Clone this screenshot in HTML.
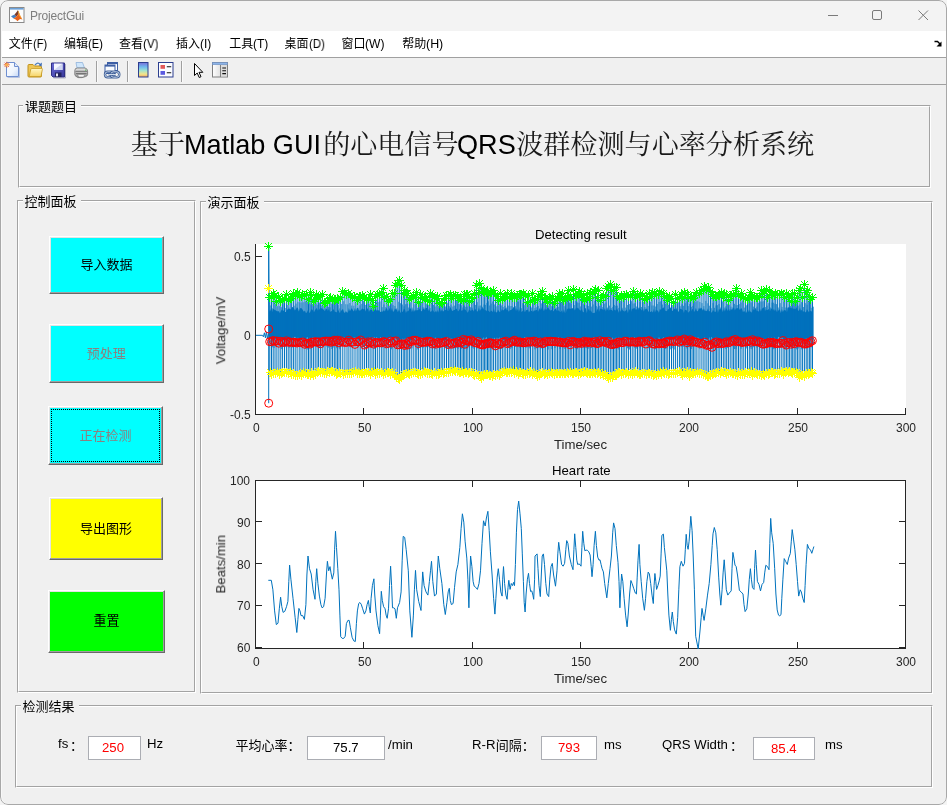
<!DOCTYPE html>
<html><head><meta charset="utf-8"><title>ProjectGui</title>
<style>
html,body{margin:0;padding:0;background:#f4f4f4;}
body{width:947px;height:805px;overflow:hidden;position:relative;font-family:"Liberation Sans",sans-serif;}
#win{position:absolute;left:0;top:0;width:947px;height:805px;border-radius:8px;background:#f0f0f0;overflow:hidden;}
#frame{position:absolute;left:0;top:0;width:945px;height:803px;border:1px solid #a8a8a8;border-radius:8px;pointer-events:none;box-shadow:inset 1px 0 0 #f8f8f8;}
.abs{position:absolute;}
.t{position:absolute;white-space:nowrap;line-height:1;will-change:transform;}
.panel{position:absolute;box-sizing:border-box;border:1px solid;border-color:#a3a3a3 #fff #fff #a3a3a3;}
.panel::after{content:"";position:absolute;left:0;top:0;right:0;bottom:0;border:1px solid;border-color:#fff #a3a3a3 #a3a3a3 #fff;}
.lbl{position:absolute;background:#f0f0f0;}
.btn{position:absolute;box-sizing:border-box;border-style:solid;border-width:1px;border-color:#fff #696969 #696969 #fff;box-shadow:inset -1px -1px 0 #a0a0a0, inset 1px 1px 0 #e3e3e3;}
.edit{position:absolute;box-sizing:border-box;background:#fff;border:1px solid #abadb3;}
svg{position:absolute;left:0;top:0;overflow:visible;}
</style></head>
<body><div id="win">
<div class="abs" style="left:0;top:0;width:947px;height:31px;background:#f3f3f3"></div>
<div class="abs" style="left:0;top:31px;width:947px;height:26px;background:#fff"></div>
<div class="abs" style="left:0;top:57px;width:947px;height:1px;background:#a0a0a0"></div>
<div class="abs" style="left:0;top:84px;width:947px;height:1px;background:#a0a0a0"></div>
<div class="t" style="left:30.00px;top:9.84px;font-size:12px;color:#7e7e7e;letter-spacing:-0.2px">ProjectGui</div>
<div class="panel" style="left:18px;top:105px;width:913px;height:83px"></div>
<div class="lbl" style="left:23px;top:104px;width:58px;height:4px"></div>
<div class="panel" style="left:17px;top:200px;width:179px;height:493px"></div>
<div class="lbl" style="left:22.5px;top:199px;width:58px;height:4px"></div>
<div class="panel" style="left:200px;top:201px;width:733px;height:493px"></div>
<div class="lbl" style="left:205.5px;top:200px;width:58px;height:4px"></div>
<div class="panel" style="left:15px;top:705px;width:918px;height:83px"></div>
<div class="lbl" style="left:20.5px;top:704px;width:58px;height:4px"></div>
<div class="btn" style="left:49px;top:236px;width:115px;height:58px;background:#00ffff"></div>
<div class="btn" style="left:49px;top:324px;width:115px;height:59px;background:#00ffff"></div>
<div class="btn" style="left:48px;top:406px;width:115px;height:59px;background:#00ffff"></div>
<div class="abs" style="left:51px;top:409px;width:107px;height:51px;border:1px dotted #000"></div>
<div class="btn" style="left:49px;top:497px;width:114px;height:63px;background:#ffff00"></div>
<div class="btn" style="left:48px;top:590px;width:117px;height:63px;background:#00ff00"></div>
<div class="t" style="left:184.40px;top:131.06px;font-size:27.1px;color:#000;">Matlab GUI</div>
<div class="t" style="left:456.94px;top:131.06px;font-size:27.1px;color:#000;">QRS</div>
<div class="t" style="left:32.80px;top:37.84px;font-size:12px;color:#000;transform:scaleX(0.93);transform-origin:0 0;">(F)</div>
<div class="t" style="left:88.30px;top:37.84px;font-size:12px;color:#000;transform:scaleX(0.93);transform-origin:0 0;">(E)</div>
<div class="t" style="left:143.30px;top:37.84px;font-size:12px;color:#000;transform:scaleX(0.965);transform-origin:0 0;">(V)</div>
<div class="t" style="left:200.30px;top:37.84px;font-size:12px;color:#000;transform:scaleX(1.0);transform-origin:0 0;">(I)</div>
<div class="t" style="left:253.30px;top:37.84px;font-size:12px;color:#000;transform:scaleX(0.97);transform-origin:0 0;">(T)</div>
<div class="t" style="left:308.80px;top:37.84px;font-size:12px;color:#000;transform:scaleX(0.95);transform-origin:0 0;">(D)</div>
<div class="t" style="left:365.30px;top:37.84px;font-size:12px;color:#000;transform:scaleX(1.01);transform-origin:0 0;">(W)</div>
<div class="t" style="left:426.30px;top:37.84px;font-size:12px;color:#000;transform:scaleX(1.035);transform-origin:0 0;">(H)</div>
<div class="edit" style="left:88px;top:736px;width:53px;height:24px"></div>
<div class="edit" style="left:307px;top:736px;width:78px;height:24px"></div>
<div class="edit" style="left:541px;top:736px;width:56px;height:24px"></div>
<div class="edit" style="left:753px;top:737px;width:62px;height:23px"></div>
<div class="t" style="left:57.50px;top:737.43px;font-size:13.2px;color:#000;">fs</div>
<div class="t" style="left:102.30px;top:740.63px;font-size:13.2px;color:#ff0000;">250</div>
<div class="t" style="left:147.30px;top:737.43px;font-size:13.2px;color:#000;">Hz</div>
<div class="t" style="left:332.60px;top:741.13px;font-size:13.2px;color:#000;">75.7</div>
<div class="t" style="left:387.60px;top:737.83px;font-size:13.2px;color:#000;">/min</div>
<div class="t" style="left:471.50px;top:737.83px;font-size:13.2px;color:#000;">R-R</div>
<div class="t" style="left:557.70px;top:740.83px;font-size:13.2px;color:#ff0000;">793</div>
<div class="t" style="left:604.30px;top:737.83px;font-size:13.2px;color:#000;">ms</div>
<div class="t" style="left:661.60px;top:737.63px;font-size:13.2px;color:#000;">QRS Width</div>
<div class="t" style="left:770.60px;top:741.53px;font-size:13.2px;color:#ff0000;">85.4</div>
<div class="t" style="left:825.30px;top:737.63px;font-size:13.2px;color:#000;">ms</div>
<div class="t" style="left:252.66px;top:421.84px;font-size:12px;color:#262626;">0</div>
<div class="t" style="left:252.66px;top:655.84px;font-size:12px;color:#262626;">0</div>
<div class="t" style="left:357.66px;top:421.84px;font-size:12px;color:#262626;">50</div>
<div class="t" style="left:357.66px;top:655.84px;font-size:12px;color:#262626;">50</div>
<div class="t" style="left:462.66px;top:421.84px;font-size:12px;color:#262626;">100</div>
<div class="t" style="left:462.66px;top:655.84px;font-size:12px;color:#262626;">100</div>
<div class="t" style="left:570.99px;top:421.84px;font-size:12px;color:#262626;">150</div>
<div class="t" style="left:570.99px;top:655.84px;font-size:12px;color:#262626;">150</div>
<div class="t" style="left:679.33px;top:421.84px;font-size:12px;color:#262626;">200</div>
<div class="t" style="left:679.33px;top:655.84px;font-size:12px;color:#262626;">200</div>
<div class="t" style="left:787.66px;top:421.84px;font-size:12px;color:#262626;">250</div>
<div class="t" style="left:787.66px;top:655.84px;font-size:12px;color:#262626;">250</div>
<div class="t" style="left:895.99px;top:421.84px;font-size:12px;color:#262626;">300</div>
<div class="t" style="left:895.99px;top:655.84px;font-size:12px;color:#262626;">300</div>
<div class="t" style="left:233.82px;top:251.14px;font-size:12px;color:#262626;">0.5</div>
<div class="t" style="left:243.83px;top:330.14px;font-size:12px;color:#262626;">0</div>
<div class="t" style="left:229.82px;top:409.14px;font-size:12px;color:#262626;">-0.5</div>
<div class="t" style="left:230.28px;top:474.84px;font-size:12px;color:#262626;">100</div>
<div class="t" style="left:236.96px;top:516.74px;font-size:12px;color:#262626;">90</div>
<div class="t" style="left:236.96px;top:558.54px;font-size:12px;color:#262626;">80</div>
<div class="t" style="left:236.96px;top:600.44px;font-size:12px;color:#262626;">70</div>
<div class="t" style="left:236.96px;top:642.34px;font-size:12px;color:#262626;">60</div>
<div class="t" style="left:535.00px;top:227.83px;font-size:13.2px;color:#000;">Detecting result</div>
<div class="t" style="left:552.00px;top:463.83px;font-size:13.2px;color:#000;">Heart rate</div>
<div class="t" style="left:554.30px;top:437.63px;font-size:13.2px;color:#262626;">Time/sec</div>
<div class="t" style="left:554.30px;top:671.63px;font-size:13.2px;color:#262626;">Time/sec</div>
<div class="t" style="left:0;top:0;font-size:13.2px;color:#262626;transform-origin:0 0;transform:translate(214.2px,364.3px) rotate(-90deg)">Voltage/mV</div>
<div class="t" style="left:0;top:0;font-size:13.2px;color:#262626;transform-origin:0 0;transform:translate(214.2px,593.5px) rotate(-90deg)">Beats/min</div>
<svg width="947" height="805" viewBox="0 0 947 805">
<rect x="255" y="244" width="651" height="171" fill="#fff"/>
<rect x="255" y="480" width="651" height="169" fill="#fff"/>
<path d="M268.9,309.6 L269.9,311.7 L270.9,309 L271.9,312.4 L272.9,309.2 L273.9,309 L274.9,310.3 L275.9,310.2 L276.9,311.3 L277.9,311.3 L278.9,311.2 L279.9,313.2 L280.9,310.9 L281.9,309.5 L282.9,310.8 L283.9,310.6 L284.9,312 L285.9,312 L286.9,309.9 L287.9,309.1 L288.9,308.4 L289.9,309.3 L290.9,309.2 L291.9,307 L292.9,307.4 L293.9,308 L294.9,310.5 L295.9,309.2 L296.9,307.2 L297.9,308 L298.9,311.5 L299.9,308.4 L300.9,307.9 L301.9,308.5 L302.9,310.2 L303.9,311.8 L304.9,310.5 L305.9,312.9 L306.9,312.4 L307.9,310.1 L308.9,312.5 L309.9,312.8 L310.9,310.3 L311.9,309.1 L312.9,310.4 L313.9,312.5 L314.9,309.9 L315.9,308.9 L316.9,307.8 L317.9,310.6 L318.9,310 L319.9,308.4 L320.9,307.9 L321.9,308.6 L322.9,308.8 L323.9,310 L324.9,311.3 L325.9,308.5 L326.9,309.1 L327.9,310.9 L328.9,308.6 L329.9,311.8 L330.9,311.5 L331.9,311.1 L332.9,309.5 L333.9,309.6 L334.9,312.1 L335.9,311.7 L336.9,312.6 L337.9,309 L338.9,311.3 L339.9,313.3 L340.9,310.7 L341.9,310.3 L342.9,308.8 L343.9,312 L344.9,312.9 L345.9,311 L346.9,312.5 L347.9,312.5 L348.9,307.9 L349.9,311.3 L350.9,309.6 L351.9,308 L352.9,310.2 L353.9,311.4 L354.9,307.8 L355.9,311.4 L356.9,307.9 L357.9,308 L358.9,310.5 L359.9,310.5 L360.9,310.2 L361.9,308.6 L362.9,308.7 L363.9,309.6 L364.9,308.7 L365.9,311.4 L366.9,308.2 L367.9,308.8 L368.9,311.9 L369.9,309.7 L370.9,309.8 L371.9,309.2 L372.9,312.2 L373.9,310.3 L374.9,310.1 L375.9,310.9 L376.9,309.7 L377.9,310.7 L378.9,309.9 L379.9,311.4 L380.9,311.9 L381.9,311.4 L382.9,311.4 L383.9,310.1 L384.9,311.5 L385.9,308.2 L386.9,308.2 L387.9,311.1 L388.9,309.7 L389.9,307.6 L390.9,311.3 L391.9,307.4 L392.9,311.4 L393.9,311.5 L394.9,308.2 L395.9,309.4 L396.9,309.6 L397.9,312.3 L398.9,309.3 L399.9,311.6 L400.9,313.1 L401.9,311.9 L402.9,311.6 L403.9,308.8 L404.9,309.3 L405.9,313.1 L406.9,311.1 L407.9,311.4 L408.9,310.3 L409.9,308.6 L410.9,308.6 L411.9,312.3 L412.9,308.5 L413.9,311.9 L414.9,309.5 L415.9,310.8 L416.9,309.9 L417.9,310.2 L418.9,310.1 L419.9,308.1 L420.9,311 L421.9,311.2 L422.9,308.4 L423.9,308.8 L424.9,310.1 L425.9,307.9 L426.9,308.1 L427.9,311.5 L428.9,308.4 L429.9,311.1 L430.9,311.9 L431.9,310.6 L432.9,309.7 L433.9,311.7 L434.9,312.6 L435.9,310.2 L436.9,312.5 L437.9,309.5 L438.9,312.5 L439.9,308.7 L440.9,311.8 L441.9,309.2 L442.9,311.6 L443.9,311 L444.9,309.5 L445.9,310.3 L446.9,307.1 L447.9,311.1 L448.9,311 L449.9,306.8 L450.9,308 L451.9,310.5 L452.9,311 L453.9,309.8 L454.9,309.9 L455.9,308.6 L456.9,309.1 L457.9,311.6 L458.9,310.5 L459.9,308.4 L460.9,310.1 L461.9,311 L462.9,309.7 L463.9,309.6 L464.9,309.3 L465.9,310.3 L466.9,311.8 L467.9,312.8 L468.9,309.5 L469.9,310.1 L470.9,311 L471.9,309.9 L472.9,309.4 L473.9,311.6 L474.9,308.6 L475.9,309.7 L476.9,311.7 L477.9,311 L478.9,307.2 L479.9,311 L480.9,308.9 L481.9,309 L482.9,307.5 L483.9,309.6 L484.9,310.6 L485.9,309.9 L486.9,311.3 L487.9,310.4 L488.9,310.9 L489.9,312.3 L490.9,310.6 L491.9,311.1 L492.9,311.9 L493.9,308.6 L494.9,312.2 L495.9,311.4 L496.9,312.7 L497.9,309.5 L498.9,311.1 L499.9,312.2 L500.9,311.5 L501.9,309.1 L502.9,310.6 L503.9,310.1 L504.9,308.5 L505.9,308.3 L506.9,310.3 L507.9,309.9 L508.9,311.8 L509.9,310.3 L510.9,310.1 L511.9,309.4 L512.9,308.3 L513.9,307 L514.9,311.2 L515.9,307.3 L516.9,311 L517.9,308.8 L518.9,311.9 L519.9,309.1 L520.9,311.9 L521.9,311.4 L522.9,311.1 L523.9,308.6 L524.9,312.2 L525.9,310.3 L526.9,310.1 L527.9,309.6 L528.9,312.4 L529.9,310.8 L530.9,311.2 L531.9,310.5 L532.9,311.9 L533.9,310.6 L534.9,310.5 L535.9,310.2 L536.9,309.8 L537.9,312.1 L538.9,309.8 L539.9,308.7 L540.9,309.9 L541.9,307 L542.9,308.5 L543.9,311.3 L544.9,308.2 L545.9,309.9 L546.9,309.1 L547.9,307.4 L548.9,308.4 L549.9,310.3 L550.9,310.4 L551.9,309.8 L552.9,311.5 L553.9,310.7 L554.9,308.9 L555.9,309.1 L556.9,310.7 L557.9,310.8 L558.9,310.2 L559.9,311.8 L560.9,311.9 L561.9,310.3 L562.9,313 L563.9,308.9 L564.9,312.7 L565.9,312.8 L566.9,308.2 L567.9,309.3 L568.9,307.9 L569.9,309.1 L570.9,308.6 L571.9,308.5 L572.9,308.4 L573.9,307.9 L574.9,310.6 L575.9,307.8 L576.9,308.4 L577.9,307.6 L578.9,308.9 L579.9,310.3 L580.9,310.4 L581.9,309 L582.9,312 L583.9,312.2 L584.9,308.8 L585.9,308.4 L586.9,312.9 L587.9,310.3 L588.9,308.6 L589.9,311.3 L590.9,310.3 L591.9,312.6 L592.9,313.3 L593.9,312.7 L594.9,312.7 L595.9,312.4 L596.9,309.4 L597.9,309.2 L598.9,312.2 L599.9,308.9 L600.9,308.6 L601.9,309 L602.9,309.6 L603.9,310.4 L604.9,308.1 L605.9,311.4 L606.9,307.6 L607.9,310 L608.9,310.7 L609.9,309.3 L610.9,309.9 L611.9,309.8 L612.9,311.3 L613.9,310.5 L614.9,309.4 L615.9,310.7 L616.9,308.3 L617.9,310.2 L618.9,312.8 L619.9,309.8 L620.9,311.7 L621.9,308.7 L622.9,310.5 L623.9,311.3 L624.9,311.5 L625.9,310.3 L626.9,309.2 L627.9,312.9 L628.9,310.7 L629.9,308.7 L630.9,312.2 L631.9,308.3 L632.9,309.3 L633.9,307.8 L634.9,308.4 L635.9,309.9 L636.9,308.9 L637.9,310.5 L638.9,307 L639.9,308.6 L640.9,309.3 L641.9,310.4 L642.9,308 L643.9,311.5 L644.9,308.5 L645.9,309.6 L646.9,308.3 L647.9,310.4 L648.9,312 L649.9,312.2 L650.9,311.4 L651.9,311.3 L652.9,312.6 L653.9,308.6 L654.9,312.8 L655.9,309.6 L656.9,310.4 L657.9,310.6 L658.9,312.8 L659.9,308.7 L660.9,309.9 L661.9,308.7 L662.9,307.7 L663.9,308.2 L664.9,310.7 L665.9,310.8 L666.9,311.2 L667.9,308.9 L668.9,309.3 L669.9,307.1 L670.9,308.6 L671.9,311 L672.9,310.4 L673.9,308.7 L674.9,308.7 L675.9,309.9 L676.9,307.7 L677.9,311.4 L678.9,311.4 L679.9,308.5 L680.9,309 L681.9,309.4 L682.9,310.1 L683.9,313 L684.9,309.8 L685.9,310.1 L686.9,310.5 L687.9,312.7 L688.9,311.9 L689.9,310.7 L690.9,311.7 L691.9,309.4 L692.9,309.1 L693.9,312.1 L694.9,311 L695.9,307.8 L696.9,311.1 L697.9,311.2 L698.9,307.5 L699.9,309.3 L700.9,307.5 L701.9,308.5 L702.9,310.4 L703.9,308.2 L704.9,311 L705.9,310.6 L706.9,311.3 L707.9,308.2 L708.9,311.6 L709.9,311.1 L710.9,312.2 L711.9,312.6 L712.9,309.9 L713.9,310.9 L714.9,312 L715.9,311.6 L716.9,308.6 L717.9,312.9 L718.9,309 L719.9,309.7 L720.9,308.4 L721.9,309.1 L722.9,312 L723.9,308.6 L724.9,311.5 L725.9,307.8 L726.9,309.3 L727.9,311 L728.9,308.3 L729.9,311.2 L730.9,308.6 L731.9,310.1 L732.9,308.5 L733.9,307.6 L734.9,310.6 L735.9,308.2 L736.9,308.4 L737.9,308.1 L738.9,308.1 L739.9,310 L740.9,308.2 L741.9,308.6 L742.9,312 L743.9,311.3 L744.9,311.4 L745.9,313.2 L746.9,311.2 L747.9,312.8 L748.9,309.5 L749.9,311.8 L750.9,311.4 L751.9,312.8 L752.9,308.4 L753.9,310.3 L754.9,310 L755.9,307.8 L756.9,311.3 L757.9,310.8 L758.9,311.7 L759.9,308.4 L760.9,311.5 L761.9,308.8 L762.9,308.1 L763.9,307.3 L764.9,311.3 L765.9,309.2 L766.9,310.3 L767.9,309.8 L768.9,309.1 L769.9,311.4 L770.9,308.7 L771.9,308.5 L772.9,310.8 L773.9,308.8 L774.9,311.1 L775.9,309.4 L776.9,312.1 L777.9,311.2 L778.9,309.5 L779.9,309.5 L780.9,313 L781.9,308.7 L782.9,311.9 L783.9,310 L784.9,310.3 L785.9,310.6 L786.9,312.4 L787.9,307.7 L788.9,307.6 L789.9,308.1 L790.9,307.6 L791.9,308.6 L792.9,308.3 L793.9,308.9 L794.9,308.5 L795.9,309 L796.9,307 L797.9,310.1 L798.9,311.1 L799.9,307.3 L800.9,310.7 L801.9,309.7 L802.9,311.8 L803.9,311.2 L804.9,311.4 L805.9,312.5 L806.9,309.1 L807.9,310.5 L808.9,312.3 L809.9,311.1 L810.9,310.4 L811.9,311.8 L812.9,312.2 L812.9,338.7 L811.9,339.8 L810.9,338.9 L809.9,338.6 L808.9,337.9 L807.9,338.2 L806.9,338.3 L805.9,338.6 L804.9,339.8 L803.9,339.2 L802.9,340.3 L801.9,340.2 L800.9,338.9 L799.9,338.7 L798.9,338.4 L797.9,338.2 L796.9,339.6 L795.9,339 L794.9,339.8 L793.9,337 L792.9,339.7 L791.9,339.7 L790.9,340.7 L789.9,337.2 L788.9,338.2 L787.9,337.6 L786.9,340.3 L785.9,338.8 L784.9,340.5 L783.9,339.3 L782.9,339.1 L781.9,337 L780.9,338.7 L779.9,337.3 L778.9,337.1 L777.9,336.8 L776.9,339.5 L775.9,339.4 L774.9,337 L773.9,338.7 L772.9,339.1 L771.9,337 L770.9,340.2 L769.9,338.5 L768.9,337.3 L767.9,340.3 L766.9,340.3 L765.9,338.8 L764.9,340.3 L763.9,337.9 L762.9,340.4 L761.9,338.7 L760.9,338.4 L759.9,340 L758.9,340.4 L757.9,337.5 L756.9,340.4 L755.9,339.9 L754.9,340.7 L753.9,338.7 L752.9,338.8 L751.9,337.2 L750.9,337.7 L749.9,337.9 L748.9,337.3 L747.9,337.9 L746.9,338.7 L745.9,338.7 L744.9,338.4 L743.9,340.2 L742.9,337.4 L741.9,339.7 L740.9,338.9 L739.9,340.8 L738.9,337.3 L737.9,339.5 L736.9,340.6 L735.9,339.2 L734.9,340.6 L733.9,338.4 L732.9,337.9 L731.9,340 L730.9,338.8 L729.9,340.5 L728.9,340 L727.9,337.7 L726.9,340.3 L725.9,339.9 L724.9,339 L723.9,338.7 L722.9,340.8 L721.9,339.4 L720.9,340.8 L719.9,339.6 L718.9,340.6 L717.9,339.6 L716.9,337 L715.9,336.8 L714.9,340 L713.9,339.7 L712.9,340 L711.9,337.2 L710.9,336.8 L709.9,337.1 L708.9,338.8 L707.9,339.5 L706.9,339.7 L705.9,339.1 L704.9,337.3 L703.9,338.6 L702.9,340.6 L701.9,340.2 L700.9,338.9 L699.9,339.4 L698.9,338.2 L697.9,337 L696.9,339 L695.9,337.2 L694.9,337 L693.9,337 L692.9,340 L691.9,340.8 L690.9,340.2 L689.9,340.1 L688.9,340.3 L687.9,339.5 L686.9,337.7 L685.9,339.6 L684.9,337 L683.9,340.2 L682.9,336.8 L681.9,337.9 L680.9,340.6 L679.9,337.1 L678.9,339.4 L677.9,340.7 L676.9,336.8 L675.9,340.2 L674.9,339.2 L673.9,336.9 L672.9,338.5 L671.9,336.9 L670.9,339.2 L669.9,340.6 L668.9,336.9 L667.9,337.3 L666.9,340.6 L665.9,340.1 L664.9,340.7 L663.9,336.9 L662.9,337.7 L661.9,339.1 L660.9,339.8 L659.9,338.8 L658.9,336.8 L657.9,340.7 L656.9,339.4 L655.9,340.2 L654.9,338.2 L653.9,339.3 L652.9,340.6 L651.9,338.7 L650.9,338.5 L649.9,338 L648.9,340 L647.9,338.4 L646.9,338.7 L645.9,337.1 L644.9,339.9 L643.9,337.5 L642.9,338.9 L641.9,337.7 L640.9,340 L639.9,338 L638.9,339.9 L637.9,337.7 L636.9,337.6 L635.9,340.5 L634.9,337.1 L633.9,337.5 L632.9,339.7 L631.9,337.3 L630.9,337.4 L629.9,337.2 L628.9,338.4 L627.9,339.7 L626.9,339.7 L625.9,337.1 L624.9,338 L623.9,337.2 L622.9,339.6 L621.9,337.4 L620.9,338.3 L619.9,337.4 L618.9,336.8 L617.9,339.6 L616.9,337.6 L615.9,337.6 L614.9,339.1 L613.9,338.2 L612.9,337.6 L611.9,338 L610.9,338.5 L609.9,340.6 L608.9,337.3 L607.9,337.8 L606.9,340.5 L605.9,338.2 L604.9,340.8 L603.9,336.9 L602.9,337 L601.9,337.9 L600.9,340.5 L599.9,337.3 L598.9,337.7 L597.9,340.1 L596.9,339.8 L595.9,340.8 L594.9,337.3 L593.9,336.9 L592.9,338 L591.9,340.8 L590.9,340 L589.9,340.4 L588.9,338.9 L587.9,337 L586.9,339.2 L585.9,339 L584.9,338.5 L583.9,340.3 L582.9,338.5 L581.9,337 L580.9,339.1 L579.9,339.1 L578.9,339.8 L577.9,337.6 L576.9,339.3 L575.9,337.1 L574.9,340.7 L573.9,340.4 L572.9,338.9 L571.9,340 L570.9,338.4 L569.9,338.3 L568.9,338.3 L567.9,337.6 L566.9,338.3 L565.9,340 L564.9,339.6 L563.9,338.6 L562.9,337.9 L561.9,337.6 L560.9,338.4 L559.9,339.5 L558.9,337.6 L557.9,336.8 L556.9,339.7 L555.9,339.2 L554.9,339.6 L553.9,338.6 L552.9,339 L551.9,337.7 L550.9,338.9 L549.9,337.3 L548.9,338.3 L547.9,340.7 L546.9,338.8 L545.9,336.8 L544.9,337 L543.9,338.3 L542.9,338.2 L541.9,340.5 L540.9,339.1 L539.9,337.4 L538.9,338.5 L537.9,337.4 L536.9,337.3 L535.9,338.8 L534.9,340.2 L533.9,340.6 L532.9,340.3 L531.9,339.7 L530.9,337.2 L529.9,337.8 L528.9,338 L527.9,337.4 L526.9,337.2 L525.9,337.6 L524.9,337.2 L523.9,337.6 L522.9,340.2 L521.9,337.6 L520.9,340.2 L519.9,339.8 L518.9,336.9 L517.9,340.8 L516.9,337.4 L515.9,337.6 L514.9,337.4 L513.9,337.3 L512.9,339.3 L511.9,338.2 L510.9,338.9 L509.9,339.8 L508.9,337.9 L507.9,340.1 L506.9,339.8 L505.9,339.7 L504.9,339.4 L503.9,340.3 L502.9,339.6 L501.9,337.5 L500.9,338.2 L499.9,336.9 L498.9,338.5 L497.9,338.2 L496.9,337.6 L495.9,340 L494.9,337.5 L493.9,338.7 L492.9,337.8 L491.9,339.7 L490.9,338 L489.9,339.1 L488.9,339.2 L487.9,340.6 L486.9,336.8 L485.9,337.7 L484.9,338 L483.9,336.9 L482.9,338.7 L481.9,338.2 L480.9,337.9 L479.9,338.5 L478.9,338.7 L477.9,337.6 L476.9,338.6 L475.9,336.8 L474.9,339.2 L473.9,338.1 L472.9,337 L471.9,339.1 L470.9,339 L469.9,339.8 L468.9,337.9 L467.9,339.1 L466.9,338.2 L465.9,339 L464.9,338 L463.9,338 L462.9,337.2 L461.9,339.9 L460.9,337.8 L459.9,339.1 L458.9,337.8 L457.9,338.3 L456.9,338.9 L455.9,338.8 L454.9,337.6 L453.9,340.7 L452.9,340 L451.9,338.2 L450.9,339 L449.9,337.6 L448.9,339.3 L447.9,336.9 L446.9,337.8 L445.9,340.1 L444.9,340.2 L443.9,339.5 L442.9,340.2 L441.9,337.4 L440.9,339.6 L439.9,339.9 L438.9,338.9 L437.9,338.5 L436.9,339 L435.9,337.8 L434.9,337.4 L433.9,339.5 L432.9,338.2 L431.9,337.7 L430.9,338.9 L429.9,337.2 L428.9,338.8 L427.9,339.7 L426.9,340.7 L425.9,340.5 L424.9,339.2 L423.9,339.4 L422.9,337.6 L421.9,337.6 L420.9,338.2 L419.9,338.8 L418.9,339.9 L417.9,337 L416.9,337.4 L415.9,338.8 L414.9,337.6 L413.9,338.8 L412.9,336.8 L411.9,340 L410.9,340.1 L409.9,340.5 L408.9,339.9 L407.9,337.9 L406.9,337.7 L405.9,339.1 L404.9,338.3 L403.9,338.8 L402.9,339.5 L401.9,337.9 L400.9,339.8 L399.9,339.1 L398.9,340 L397.9,340.4 L396.9,339.6 L395.9,337.4 L394.9,337.5 L393.9,340.7 L392.9,340 L391.9,337 L390.9,337.3 L389.9,337.2 L388.9,337.5 L387.9,338.4 L386.9,337.8 L385.9,338.2 L384.9,340.7 L383.9,340.2 L382.9,337 L381.9,340.7 L380.9,337.1 L379.9,338.3 L378.9,339.6 L377.9,337.9 L376.9,337.3 L375.9,337.4 L374.9,336.8 L373.9,338 L372.9,337.1 L371.9,339.5 L370.9,339.5 L369.9,336.9 L368.9,339.9 L367.9,340.8 L366.9,339.9 L365.9,338.2 L364.9,338.7 L363.9,339 L362.9,339.7 L361.9,337.4 L360.9,337.8 L359.9,340.7 L358.9,340.4 L357.9,339 L356.9,338.9 L355.9,337.4 L354.9,337.9 L353.9,337.2 L352.9,339.6 L351.9,340.1 L350.9,338.2 L349.9,338.3 L348.9,340.2 L347.9,338.6 L346.9,337.6 L345.9,339.9 L344.9,338.6 L343.9,337.1 L342.9,337.8 L341.9,339 L340.9,339.4 L339.9,338.2 L338.9,339.7 L337.9,337.6 L336.9,338.2 L335.9,340.2 L334.9,337 L333.9,338.9 L332.9,340 L331.9,338.4 L330.9,339.4 L329.9,339.4 L328.9,340.7 L327.9,339.9 L326.9,337.2 L325.9,339.1 L324.9,340.2 L323.9,340.8 L322.9,338.1 L321.9,336.8 L320.9,339.8 L319.9,340.6 L318.9,340.1 L317.9,337.7 L316.9,338.5 L315.9,339.7 L314.9,339.2 L313.9,336.8 L312.9,337.2 L311.9,338.5 L310.9,339.4 L309.9,338.6 L308.9,337.6 L307.9,337.2 L306.9,337 L305.9,340.1 L304.9,339.5 L303.9,339.8 L302.9,337.1 L301.9,340.2 L300.9,339.7 L299.9,340.2 L298.9,339.4 L297.9,337 L296.9,340.2 L295.9,336.9 L294.9,336.8 L293.9,337.5 L292.9,336.7 L291.9,340.3 L290.9,339.3 L289.9,340.6 L288.9,337.6 L287.9,340.5 L286.9,340.7 L285.9,339 L284.9,339.1 L283.9,340.4 L282.9,340.1 L281.9,337.6 L280.9,339.9 L279.9,338.3 L278.9,339 L277.9,338.1 L276.9,338.4 L275.9,339.6 L274.9,338.6 L273.9,340.3 L272.9,340.7 L271.9,338.5 L270.9,337.1 L269.9,339.8 L268.9,339.3Z" fill="#0072BD"/>
<path d="M269.8,297.7V372.9M271.5,297.6V374.4M273.2,293.3V373.2M275,295.9V373.1M276.9,301.8V372.6M278.9,296.4V374.8M280.8,301.1V373.4M282.6,299.2V372.3M284.5,298.4V372.4M286.4,294.1V372.3M288.2,300.2V373.7M290,298.2V372.5M291.7,298.7V374.2M293.4,293.5V374.3M295.2,295.4V375.1M297.1,292.6V375.8M299.2,296.6V374.7M301,296.8V375.1M302.9,294.9V372.7M304.9,295.6V373.4M306.8,294.5V374.2M308.5,299.5V374.6M310.1,292.1V375.7M311.7,295.3V372.3M313.4,301.9V375.9M315.2,299.3V374.4M317,294.7V373M318.6,297V371.5M320.4,296.9V372.4M322.2,294.6V372.1M324.1,303.6V373.7M325.9,302.8V373.3M327.7,301.3V371.7M329.3,298.1V372.8M330.9,297.6V372M332.6,299.5V372M334.3,301V372M335.9,299.6V374.3M337.4,298.1V373.6M339,299.5V372.6M340.7,297.5V373.7M342.8,291.8V374.3M344.9,293.8V373.9M347,294.2V373.6M348.9,293.7V373.2M350.9,295.7V373.9M352.9,297.2V372.4M355,296.3V371.5M357.1,300.5V373M359,296.3V373.7M360.8,296V373.9M362.7,295.8V373.9M364.6,297.7V373.3M366.5,299.1V372.2M368.3,298.5V372M370.1,294.6V374.4M372,300V372.1M373.8,306.5V371.7M375.5,296.4V374.3M377.3,294.3V373.2M379.3,294.7V373.2M381.3,292.2V372.4M383.1,288.7V374.5M384.9,297.5V373.3M386.8,296.4V372.7M388.7,301.4V372.7M390.6,299.7V374.8M392.2,293.7V372.5M394,293.5V376M395.9,285.3V377.5M397.8,283.3V378.6M399.7,280.9V379.2M401.5,286V377.7M403.2,293.9V375.2M404.7,290.2V374.9M406.2,293.8V373.6M407.8,293.9V373.3M409.4,299.5V374.6M411.2,297.3V373.5M413.2,295.4V373M415.2,297.5V372.2M416.8,292.6V373.8M418.6,302.6V374.2M420.4,294.5V374.3M422.3,298.4V373M424,297.2V371.3M425.7,296.2V372.1M427.5,300.8V373.7M429.3,301.3V373.9M431,293.7V373.6M432.6,295V374.8M434.3,297.2V372.9M436.1,298.1V374.4M437.9,296.4V374.6M439.5,303.3V373M441.1,302.7V372.5M442.8,303.8V373.9M444.6,298.9V372.3M446.5,295.5V372.8M448.4,295.3V372.8M450.1,294.4V372M451.9,298.4V371.4M453.8,296V370.8M455.6,295.8V371.2M457.3,296.6V372M458.9,298.8V372.5M460.5,298.6V372.9M462,299.3V372M463.4,300.3V373.8M464.8,294V372.5M466.3,294.9V372.9M467.9,294.9V373.6M469.6,301.2V372.6M471.3,297.4V372.5M472.9,298.9V374.7M474.6,293.2V375.1M476.4,285.8V374.7M478.1,293.6V375.2M479.9,283.7V376.5M481.6,288.9V378.8M483.1,291.4V375.4M484.6,292.9V374.8M486,291.4V374.7M487.5,290.7V375M488.9,294.1V375.4M490.3,291.3V375.8M491.9,292.4V377M493.6,290.4V374.8M495.4,294.2V375.2M497.2,296.9V374.3M498.9,300.8V375.6M500.6,293.1V373.4M502.3,299.3V372.7M504.1,296.2V371.9M505.8,296.6V372.8M507.6,293.8V372.3M509.3,297.2V372.6M511.1,293.9V372.6M512.8,297.6V370.7M514.5,297.5V373.1M516.2,297.4V372.5M517.8,296V374.6M519.1,294.6V372.5M520.5,295.2V372.9M522,294.6V373.7M523.5,293.3V374.7M525.2,295.7V374.9M527.1,302.1V374M528.8,295.3V373.2M530.5,301.2V371.5M532.3,293.6V374.3M534,300.9V373.2M535.8,300V374.5M537.4,299V376.4M539,296V375.8M540.7,294.4V373.5M542.5,291.9V372.5M544,298.4V374.2M545.7,297.7V373M547.4,302.3V374.1M549.1,298.3V373.2M550.9,299.5V372.4M552.5,297V373.8M554.2,303.8V374.3M555.9,299.7V373.4M557.6,299V373.9M559.2,293.7V373.1M560.7,297.7V373.8M562.3,293.6V373.2M563.9,300V373.7M565.6,299.7V373.3M567.1,296.5V372.7M568.7,290.2V373.5M570.2,296.3V372.2M571.8,298.6V373M573.5,289.6V373M575.1,294.1V372.4M576.6,296.9V372.8M578.1,293.5V374.1M579.8,291.3V373.2M581.4,294.6V372.8M583,297.5V372.2M584.5,300.5V371M586,298V372.5M587.6,293.6V373.6M589.2,298.4V373.7M590.7,292.6V373.3M592.3,293.6V373.5M594,291.3V372.4M595.5,289.1V373.5M597,297.6V373.5M598.6,290.9V372.1M600.2,300.4V374.9M601.8,297.2V373.6M603.4,295.1V375.1M605.1,296.7V375.1M606.8,288.3V376.7M608.6,286.6V378.2M610.3,284.5V378M612,290.4V377.9M613.5,290.4V375.2M615,287.8V375.2M616.4,287.9V375.4M618,296.7V373M619.6,298.5V372.5M621.4,295.8V374.6M623.1,297.7V373.8M624.8,295.5V373.6M626.7,294.6V372.8M628.6,296.7V374.6M630.5,295.1V373.7M632.2,294.4V374M634,291.5V373.6M635.7,297.4V371.6M637.5,294.3V373.7M639.2,296.6V374.9M640.7,293.5V375M642.4,295.8V373.1M644.2,299.2V373.9M646,296.2V374.7M647.8,298.1V373.4M649.5,293.5V373.5M651.2,296.3V374.5M652.9,293V375.1M654.7,293.2V374.2M656.4,294.5V375.1M658.1,294.6V374.5M659.9,291.9V372.7M661.6,293.1V374.4M663.1,293.8V372M664.6,296.5V373.1M666.1,296.6V373.8M667.8,300.2V374.9M669.5,296.7V373.4M671.5,298.5V373.4M673.4,302.1V373.5M675.4,294.7V373.1M677.4,298.1V372.9M679.4,297.4V371.2M681.1,295V373.4M682.7,298.4V375.6M684.3,292.7V373M685.9,294.7V373.3M687.4,294.6V371.8M689,297V376.6M690.5,297.2V372.4M692,296.2V373.5M693.4,298.4V373.9M695,295.6V373.3M696.9,292.8V373M699,293.3V373.7M701.1,290.5V373.5M703.1,290.3V374.3M705,286.9V375.5M706.9,289.5V376.7M708.7,287.6V376.4M710.5,291V375.5M712.1,294.9V374.6M713.7,296.2V373.2M715.1,296.5V373.7M716.6,296.5V372.7M718.1,295.4V372.2M719.8,295V373.5M721.5,292.6V371M723.3,297.7V372.8M725,294.8V372.7M726.7,294.5V374.7M728.4,300.1V374M730.2,296.4V372.7M732,295.9V373.1M733.6,294.5V373.3M735.2,293.8V374.9M736.8,288.6V375.4M738.5,294.3V372.5M740.2,297V374.2M742,293.9V374M743.8,297.3V374.7M745.6,298.5V372.4M747.5,299.5V373.3M749.3,298.5V373M751,292.8V371.6M752.7,296.9V375.7M754.4,297.1V373.8M756.1,297.8V373.9M757.7,297.8V374.8M759.4,296.9V374.8M761.2,290.2V375.2M762.9,293V374.3M764.6,291.4V375.2M766.3,289.2V373.6M767.9,297.5V374.6M769.6,291.5V373.4M771.1,294.3V372.5M772.6,296V372.8M774.1,295.6V374.1M775.7,293.6V373.1M777.4,294.7V373.1M779.3,294V373.4M781.2,294V371.9M783.1,294.8V374M784.8,297.2V372.1M786.4,293.4V371.2M788,297V372.8M789.6,297.9V371.1M791.2,301.1V372.3M792.7,293.4V373.6M794.2,293.2V373M795.8,301V372.3M797.4,297.2V373.2M799.1,291V377.1M800.9,288.4V375.1M802.6,297.5V375.7M804.4,284V376.2M806.2,292.6V373.7M807.8,290.5V374.8M809.4,296.1V373.5M810.9,299.7V372.4M812.5,297.1V373.1" stroke="#0072BD" stroke-width="1" fill="none"/>
<path d="M270.7,305.4V345.8M272.4,308.3V347.3M274.1,301.6V348M275.8,304V346.4M277.7,306.2V343.3M279.7,306.1V344.6M281.6,307.2V349.1M283.4,301.6V346.7M285.3,308V347.1M287.2,305V344.9M289.1,307.6V348.1M290.9,300.9V344.9M292.5,307.2V347.4M294.2,305.7V345.3M296.1,303.6V344.1M298,302V346.2M300,302.6V344.8M301.9,302.4V346.5M303.8,302.2V345M305.7,301.2V348.7M307.6,301.6V349.5M309.3,302.4V345.8M310.9,304.5V343.4M312.6,303.9V346.9M314.3,302.2V344M316.1,303.6V347.1M317.8,304.9V346.6M319.5,302.7V347.7M321.3,305.4V346M323.1,305.4V347.5M324.9,302.2V344.2M326.8,304.5V346.7M328.5,307V347.6M330.1,307.3V345.9M331.8,303.8V349M333.4,301.2V347.5M335.1,301.8V344.2M336.7,300.9V348.2M338.2,305.1V343.8M339.8,308.4V349.2M341.6,304V346.4M343.7,301.2V344.6M345.8,304.2V343.2M347.8,304.4V346.3M349.8,303V347.1M351.7,305.6V345.8M353.8,305.7V343.5M355.8,303.1V346.2M358,307.7V347.2M359.9,305.3V346M361.7,303.9V344M363.5,300.8V346.4M365.4,305V345.6M367.3,300.6V347.4M369.2,304.3V344.4M371,307.1V347.5M372.9,300.7V344.3M374.6,304.4V348.8M376.3,301.4V345.2M378.2,302V343.3M380.1,301.4V346.9M382.2,307.2V347.7M383.9,304.4V346.3M385.8,307V348.4M387.7,303.5V345.7M389.6,305.6V343.2M391.4,303.4V349.3M393.1,305.2V344.5M394.9,306V345.2M396.7,308.4V347.6M398.7,301.8V345.8M400.5,303.2V348.3M402.4,304.5V346M404.1,306.3V345.4M405.6,304.2V343.2M407.1,303.9V346.9M408.6,307.5V348.5M410.3,302.4V348.8M412.1,307.6V348.4M414.1,304.3V344.3M416,303.6V344.4M417.7,307.9V349.4M419.5,302.4V347.5M421.3,302.8V347.3M423.1,307.1V347.8M424.9,307.7V343.8M426.6,303.8V347.3M428.3,304.9V347.1M430.1,308V343.9M431.8,303.8V343.5M433.5,305V345.6M435.2,306.5V349.2M437,301.1V344.1M438.7,306V343.8M440.4,302V347.6M442,303.7V343.5M443.7,304.5V343.5M445.5,306.5V347.1M447.4,302.8V348.1M449.2,306V344M451,304.6V344.5M452.8,306.5V348.4M454.6,305.6V348.3M456.4,300.8V347.7M458.1,304V348.8M459.7,304.2V347.1M461.3,305.3V349.1M462.8,307.5V344.3M464.3,305.7V348M465.7,306.9V347.7M467.2,306.6V349.3M468.8,303.2V347.4M470.5,307.2V345.1M472.2,307.7V347.8M473.8,301.8V348.7M475.5,304.9V344.2M477.2,302.1V348.5M479,305.7V345M480.7,305.5V343.5M482.4,306.8V343.5M484,304.5V348.1M485.4,304.9V348.7M486.9,302.9V347.9M488.3,301.3V345.8M489.7,305.5V348M491.2,303.6V348.2M492.7,301.5V348.7M494.4,304.4V346.1M496.2,306.3V344.6M498.1,305.4V345.4M499.8,304V347.6M501.4,305.4V349M503.2,307V344.1M504.9,305.9V345.3M506.6,307.6V346M508.4,305.6V346.4M510.2,306.1V349.1M511.9,306V348.1M513.6,307.4V345M515.4,306.2V347M517.1,301.3V344.6M518.6,301.5V344.1M520,307.4V347.8M521.4,308.2V345.2M522.8,303.2V347.3M524.3,305.2V345.4M526.1,302.9V347.9M527.9,301.8V347.3M529.7,303.5V348.4M531.4,307.5V343.8M533.1,302.6V345M534.9,308.1V349.3M536.7,307.2V348.3M538.2,306V347.1M539.8,308.1V347.6M541.6,303.4V348.4M543.3,301.8V345.9M544.9,302.8V347.9M546.5,305V345.2M548.2,305.7V349.5M550,301.8V344.6M551.8,306.2V349.2M553.4,301.7V345.7M555,308.1V348M556.7,307.6V344.5M558.4,306.8V343.7M560,302.5V349M561.6,303V347M563.2,302.5V344.3M564.8,306.2V349M566.4,301V346.8M568,301.1V345.1M569.5,302.6V344.3M571.1,303.5V346.7M572.7,308V345.1M574.3,305.1V346.3M575.9,301.1V348.7M577.4,302.4V349.2M579,302.9V344.4M580.6,306.4V346.1M582.2,300.8V345.5M583.8,304.1V347.9M585.3,308V347.3M586.9,305.2V348.2M588.4,306V348.7M590,302.9V345.3M591.6,306.6V348M593.2,304.4V346.7M594.9,301V347.3M596.4,306.1V343.9M597.9,307.3V346M599.4,305.8V344.4M601,304.1V344.7M602.7,307.1V345.3M604.3,303.7V346.6M606,302.4V344.3M607.7,307.5V347.7M609.5,305.6V348.2M611.2,308V347.7M612.8,306.9V345.1M614.4,304.9V348.8M615.8,305.9V346.6M617.3,305.6V348.5M618.8,307.9V349.5M620.4,300.6V344.8M622.2,307.8V345M623.9,300.7V346M625.7,307.6V346.4M627.5,305V348.3M629.5,304.1V349.5M631.4,301.2V345.4M633.1,303.5V343.6M634.8,303.3V347.9M636.6,306.5V348.6M638.3,308.2V344.6M640,301.8V347.6M641.5,307V345.5M643.2,301.8V343.7M645,307.1V344.6M646.9,301.9V344.8M648.7,305.9V348.4M650.3,301.9V347.5M652,305.5V346M653.7,305.5V344.3M655.6,306.5V349.3M657.3,304V345.5M659,302V345.1M660.7,301.3V343.5M662.4,304.5V346.4M663.9,307.2V347.6M665.4,303.8V349M667,303V348.5M668.6,304.9V343.4M670.4,307.7V349.3M672.3,305V348.3M674.3,302.7V349.5M676.2,301.8V344.1M678.3,302.2V346.8M680.2,306.2V345.3M681.9,304.4V346.9M683.5,305.8V346.7M685.2,303.2V344.3M686.8,301.3V348.5M688.3,306.1V346.7M689.8,304V347.3M691.4,306.9V349M692.8,305.9V346.6M694.3,300.8V343.8M695.9,301.6V343.4M697.8,300.8V345.6M699.9,302V349.1M702,303.1V345.7M703.9,306.1V345.9M705.8,300.9V346.5M707.8,303.3V347.6M709.6,305.7V343.9M711.3,308.2V348.3M713,303.1V346.7M714.5,307.8V345.3M716,305.5V345.8M717.5,305.2V346.2M719,304V347M720.6,307.5V348.4M722.4,301.4V346.1M724.2,307.6V344.1M725.8,306.4V348.9M727.5,304.2V347.9M729.3,304.6V346M731,306.7V345.9M732.8,307.5V346.3M734.5,303.8V349M736.1,305.2V349.1M737.7,305V344.1M739.3,304.1V345M741.1,302.5V348.8M742.8,300.6V345M744.6,307.6V344.3M746.4,305.3V348.4M748.3,300.9V346M750.1,302.3V348.7M751.8,302.3V349.2M753.5,306.6V347.2M755.3,308.3V345.8M756.9,306.8V347.6M758.6,302.9V346.8M760.3,301.4V345.6M762,301.6V346M763.8,301.2V344M765.5,307.1V344.8M767.1,305.7V344.7M768.8,303.1V344.3M770.4,307.5V347.2M772,302.6V343.5M773.4,302.7V349.2M774.9,303.7V348.9M776.5,304.1V344.4M778.3,307.5V343.7M780.2,303.1V347.9M782.1,306.9V346.7M784,301.8V345.8M785.7,307.5V349.4M787.3,307.6V344.5M788.9,307V346M790.5,306.1V345.2M792.1,305.4V348.6M793.6,301.5V346.1M795.1,303V344.4M796.6,300.9V349.4M798.2,305.7V348.6M799.9,304.5V344M801.7,302.1V349.3M803.5,307V344.3M805.3,303.1V347M807.1,304.7V348.5M808.7,301.8V347M810.2,301.5V345.7M811.8,307.8V347.4M813.4,306.7V343.9" stroke="#0072BD" stroke-width="0.9" fill="none" opacity="0.75"/>
<path d="M256,335.3 H262.4 l1,1.5 l1,-4 l1,5 l1,-6 l1,7 l1,-5 l0.8,2 L268.7,246 V403.2" stroke="#0072BD" stroke-width="1" fill="none"/>
<defs><g id="st"><path d="M-4.5,0H4.5M0,-4.5V4.5M-3,-3L3,3M-3,3L3,-3" fill="none" stroke-width="1"/></g></defs>
<path d="M265,297.5h9M269.5,293v9M266.5,294.5l6,6M266.5,300.5l6,-6M267,297.5h9M271.5,293v9M268.5,294.5l6,6M268.5,300.5l6,-6M269,293.5h9M273.5,289v9M270.5,290.5l6,6M270.5,296.5l6,-6M270,295.5h9M274.5,291v9M271.5,292.5l6,6M271.5,298.5l6,-6M272,301.5h9M276.5,297v9M273.5,298.5l6,6M273.5,304.5l6,-6M274,296.5h9M278.5,292v9M275.5,293.5l6,6M275.5,299.5l6,-6M276,301.5h9M280.5,297v9M277.5,298.5l6,6M277.5,304.5l6,-6M278,299.5h9M282.5,295v9M279.5,296.5l6,6M279.5,302.5l6,-6M280,298.5h9M284.5,294v9M281.5,295.5l6,6M281.5,301.5l6,-6M282,294.5h9M286.5,290v9M283.5,291.5l6,6M283.5,297.5l6,-6M284,300.5h9M288.5,296v9M285.5,297.5l6,6M285.5,303.5l6,-6M286,298.5h9M290.5,294v9M287.5,295.5l6,6M287.5,301.5l6,-6M287,298.5h9M291.5,294v9M288.5,295.5l6,6M288.5,301.5l6,-6M289,293.5h9M293.5,289v9M290.5,290.5l6,6M290.5,296.5l6,-6M291,295.5h9M295.5,291v9M292.5,292.5l6,6M292.5,298.5l6,-6M293,292.5h9M297.5,288v9M294.5,289.5l6,6M294.5,295.5l6,-6M295,296.5h9M299.5,292v9M296.5,293.5l6,6M296.5,299.5l6,-6M297,296.5h9M301.5,292v9M298.5,293.5l6,6M298.5,299.5l6,-6M298,294.5h9M302.5,290v9M299.5,291.5l6,6M299.5,297.5l6,-6M300,295.5h9M304.5,291v9M301.5,292.5l6,6M301.5,298.5l6,-6M302,294.5h9M306.5,290v9M303.5,291.5l6,6M303.5,297.5l6,-6M304,299.5h9M308.5,295v9M305.5,296.5l6,6M305.5,302.5l6,-6M306,292.5h9M310.5,288v9M307.5,289.5l6,6M307.5,295.5l6,-6M307,295.5h9M311.5,291v9M308.5,292.5l6,6M308.5,298.5l6,-6M309,301.5h9M313.5,297v9M310.5,298.5l6,6M310.5,304.5l6,-6M311,299.5h9M315.5,295v9M312.5,296.5l6,6M312.5,302.5l6,-6M312,294.5h9M316.5,290v9M313.5,291.5l6,6M313.5,297.5l6,-6M314,297.5h9M318.5,293v9M315.5,294.5l6,6M315.5,300.5l6,-6M316,296.5h9M320.5,292v9M317.5,293.5l6,6M317.5,299.5l6,-6M318,294.5h9M322.5,290v9M319.5,291.5l6,6M319.5,297.5l6,-6M320,303.5h9M324.5,299v9M321.5,300.5l6,6M321.5,306.5l6,-6M321,302.5h9M325.5,298v9M322.5,299.5l6,6M322.5,305.5l6,-6M323,301.5h9M327.5,297v9M324.5,298.5l6,6M324.5,304.5l6,-6M325,298.5h9M329.5,294v9M326.5,295.5l6,6M326.5,301.5l6,-6M326,297.5h9M330.5,293v9M327.5,294.5l6,6M327.5,300.5l6,-6M328,299.5h9M332.5,295v9M329.5,296.5l6,6M329.5,302.5l6,-6M330,300.5h9M334.5,296v9M331.5,297.5l6,6M331.5,303.5l6,-6M331,299.5h9M335.5,295v9M332.5,296.5l6,6M332.5,302.5l6,-6M333,298.5h9M337.5,294v9M334.5,295.5l6,6M334.5,301.5l6,-6M334,299.5h9M338.5,295v9M335.5,296.5l6,6M335.5,302.5l6,-6M336,297.5h9M340.5,293v9M337.5,294.5l6,6M337.5,300.5l6,-6M338,291.5h9M342.5,287v9M339.5,288.5l6,6M339.5,294.5l6,-6M340,293.5h9M344.5,289v9M341.5,290.5l6,6M341.5,296.5l6,-6M342,294.5h9M346.5,290v9M343.5,291.5l6,6M343.5,297.5l6,-6M344,293.5h9M348.5,289v9M345.5,290.5l6,6M345.5,296.5l6,-6M346,295.5h9M350.5,291v9M347.5,292.5l6,6M347.5,298.5l6,-6M348,297.5h9M352.5,293v9M349.5,294.5l6,6M349.5,300.5l6,-6M350,296.5h9M354.5,292v9M351.5,293.5l6,6M351.5,299.5l6,-6M353,300.5h9M357.5,296v9M354.5,297.5l6,6M354.5,303.5l6,-6M355,296.5h9M359.5,292v9M356.5,293.5l6,6M356.5,299.5l6,-6M356,296.5h9M360.5,292v9M357.5,293.5l6,6M357.5,299.5l6,-6M358,295.5h9M362.5,291v9M359.5,292.5l6,6M359.5,298.5l6,-6M360,297.5h9M364.5,293v9M361.5,294.5l6,6M361.5,300.5l6,-6M362,299.5h9M366.5,295v9M363.5,296.5l6,6M363.5,302.5l6,-6M364,298.5h9M368.5,294v9M365.5,295.5l6,6M365.5,301.5l6,-6M366,294.5h9M370.5,290v9M367.5,291.5l6,6M367.5,297.5l6,-6M368,300.5h9M372.5,296v9M369.5,297.5l6,6M369.5,303.5l6,-6M369,306.5h9M373.5,302v9M370.5,303.5l6,6M370.5,309.5l6,-6M371,296.5h9M375.5,292v9M372.5,293.5l6,6M372.5,299.5l6,-6M373,294.5h9M377.5,290v9M374.5,291.5l6,6M374.5,297.5l6,-6M375,294.5h9M379.5,290v9M376.5,291.5l6,6M376.5,297.5l6,-6M377,292.5h9M381.5,288v9M378.5,289.5l6,6M378.5,295.5l6,-6M379,288.5h9M383.5,284v9M380.5,285.5l6,6M380.5,291.5l6,-6M380,297.5h9M384.5,293v9M381.5,294.5l6,6M381.5,300.5l6,-6M382,296.5h9M386.5,292v9M383.5,293.5l6,6M383.5,299.5l6,-6M384,301.5h9M388.5,297v9M385.5,298.5l6,6M385.5,304.5l6,-6M386,299.5h9M390.5,295v9M387.5,296.5l6,6M387.5,302.5l6,-6M388,293.5h9M392.5,289v9M389.5,290.5l6,6M389.5,296.5l6,-6M390,293.5h9M394.5,289v9M391.5,290.5l6,6M391.5,296.5l6,-6M391,285.5h9M395.5,281v9M392.5,282.5l6,6M392.5,288.5l6,-6M393,283.5h9M397.5,279v9M394.5,280.5l6,6M394.5,286.5l6,-6M395,280.5h9M399.5,276v9M396.5,277.5l6,6M396.5,283.5l6,-6M397,285.5h9M401.5,281v9M398.5,282.5l6,6M398.5,288.5l6,-6M399,293.5h9M403.5,289v9M400.5,290.5l6,6M400.5,296.5l6,-6M400,290.5h9M404.5,286v9M401.5,287.5l6,6M401.5,293.5l6,-6M402,293.5h9M406.5,289v9M403.5,290.5l6,6M403.5,296.5l6,-6M403,293.5h9M407.5,289v9M404.5,290.5l6,6M404.5,296.5l6,-6M405,299.5h9M409.5,295v9M406.5,296.5l6,6M406.5,302.5l6,-6M407,297.5h9M411.5,293v9M408.5,294.5l6,6M408.5,300.5l6,-6M409,295.5h9M413.5,291v9M410.5,292.5l6,6M410.5,298.5l6,-6M411,297.5h9M415.5,293v9M412.5,294.5l6,6M412.5,300.5l6,-6M412,292.5h9M416.5,288v9M413.5,289.5l6,6M413.5,295.5l6,-6M414,302.5h9M418.5,298v9M415.5,299.5l6,6M415.5,305.5l6,-6M416,294.5h9M420.5,290v9M417.5,291.5l6,6M417.5,297.5l6,-6M418,298.5h9M422.5,294v9M419.5,295.5l6,6M419.5,301.5l6,-6M420,297.5h9M424.5,293v9M421.5,294.5l6,6M421.5,300.5l6,-6M421,296.5h9M425.5,292v9M422.5,293.5l6,6M422.5,299.5l6,-6M423,300.5h9M427.5,296v9M424.5,297.5l6,6M424.5,303.5l6,-6M425,301.5h9M429.5,297v9M426.5,298.5l6,6M426.5,304.5l6,-6M426,293.5h9M430.5,289v9M427.5,290.5l6,6M427.5,296.5l6,-6M428,295.5h9M432.5,291v9M429.5,292.5l6,6M429.5,298.5l6,-6M430,297.5h9M434.5,293v9M431.5,294.5l6,6M431.5,300.5l6,-6M432,298.5h9M436.5,294v9M433.5,295.5l6,6M433.5,301.5l6,-6M433,296.5h9M437.5,292v9M434.5,293.5l6,6M434.5,299.5l6,-6M435,303.5h9M439.5,299v9M436.5,300.5l6,6M436.5,306.5l6,-6M437,302.5h9M441.5,298v9M438.5,299.5l6,6M438.5,305.5l6,-6M438,303.5h9M442.5,299v9M439.5,300.5l6,6M439.5,306.5l6,-6M440,298.5h9M444.5,294v9M441.5,295.5l6,6M441.5,301.5l6,-6M442,295.5h9M446.5,291v9M443.5,292.5l6,6M443.5,298.5l6,-6M444,295.5h9M448.5,291v9M445.5,292.5l6,6M445.5,298.5l6,-6M446,294.5h9M450.5,290v9M447.5,291.5l6,6M447.5,297.5l6,-6M447,298.5h9M451.5,294v9M448.5,295.5l6,6M448.5,301.5l6,-6M449,295.5h9M453.5,291v9M450.5,292.5l6,6M450.5,298.5l6,-6M451,295.5h9M455.5,291v9M452.5,292.5l6,6M452.5,298.5l6,-6M453,296.5h9M457.5,292v9M454.5,293.5l6,6M454.5,299.5l6,-6M454,298.5h9M458.5,294v9M455.5,295.5l6,6M455.5,301.5l6,-6M456,298.5h9M460.5,294v9M457.5,295.5l6,6M457.5,301.5l6,-6M457,299.5h9M461.5,295v9M458.5,296.5l6,6M458.5,302.5l6,-6M459,300.5h9M463.5,296v9M460.5,297.5l6,6M460.5,303.5l6,-6M460,294.5h9M464.5,290v9M461.5,291.5l6,6M461.5,297.5l6,-6M462,294.5h9M466.5,290v9M463.5,291.5l6,6M463.5,297.5l6,-6M463,294.5h9M467.5,290v9M464.5,291.5l6,6M464.5,297.5l6,-6M465,301.5h9M469.5,297v9M466.5,298.5l6,6M466.5,304.5l6,-6M467,297.5h9M471.5,293v9M468.5,294.5l6,6M468.5,300.5l6,-6M468,298.5h9M472.5,294v9M469.5,295.5l6,6M469.5,301.5l6,-6M470,293.5h9M474.5,289v9M471.5,290.5l6,6M471.5,296.5l6,-6M472,285.5h9M476.5,281v9M473.5,282.5l6,6M473.5,288.5l6,-6M474,293.5h9M478.5,289v9M475.5,290.5l6,6M475.5,296.5l6,-6M475,283.5h9M479.5,279v9M476.5,280.5l6,6M476.5,286.5l6,-6M477,288.5h9M481.5,284v9M478.5,285.5l6,6M478.5,291.5l6,-6M479,291.5h9M483.5,287v9M480.5,288.5l6,6M480.5,294.5l6,-6M480,292.5h9M484.5,288v9M481.5,289.5l6,6M481.5,295.5l6,-6M482,291.5h9M486.5,287v9M483.5,288.5l6,6M483.5,294.5l6,-6M483,290.5h9M487.5,286v9M484.5,287.5l6,6M484.5,293.5l6,-6M484,294.5h9M488.5,290v9M485.5,291.5l6,6M485.5,297.5l6,-6M486,291.5h9M490.5,287v9M487.5,288.5l6,6M487.5,294.5l6,-6M487,292.5h9M491.5,288v9M488.5,289.5l6,6M488.5,295.5l6,-6M489,290.5h9M493.5,286v9M490.5,287.5l6,6M490.5,293.5l6,-6M491,294.5h9M495.5,290v9M492.5,291.5l6,6M492.5,297.5l6,-6M493,296.5h9M497.5,292v9M494.5,293.5l6,6M494.5,299.5l6,-6M494,300.5h9M498.5,296v9M495.5,297.5l6,6M495.5,303.5l6,-6M496,293.5h9M500.5,289v9M497.5,290.5l6,6M497.5,296.5l6,-6M498,299.5h9M502.5,295v9M499.5,296.5l6,6M499.5,302.5l6,-6M500,296.5h9M504.5,292v9M501.5,293.5l6,6M501.5,299.5l6,-6M501,296.5h9M505.5,292v9M502.5,293.5l6,6M502.5,299.5l6,-6M503,293.5h9M507.5,289v9M504.5,290.5l6,6M504.5,296.5l6,-6M505,297.5h9M509.5,293v9M506.5,294.5l6,6M506.5,300.5l6,-6M507,293.5h9M511.5,289v9M508.5,290.5l6,6M508.5,296.5l6,-6M508,297.5h9M512.5,293v9M509.5,294.5l6,6M509.5,300.5l6,-6M510,297.5h9M514.5,293v9M511.5,294.5l6,6M511.5,300.5l6,-6M512,297.5h9M516.5,293v9M513.5,294.5l6,6M513.5,300.5l6,-6M513,295.5h9M517.5,291v9M514.5,292.5l6,6M514.5,298.5l6,-6M515,294.5h9M519.5,290v9M516.5,291.5l6,6M516.5,297.5l6,-6M516,295.5h9M520.5,291v9M517.5,292.5l6,6M517.5,298.5l6,-6M517,294.5h9M521.5,290v9M518.5,291.5l6,6M518.5,297.5l6,-6M519,293.5h9M523.5,289v9M520.5,290.5l6,6M520.5,296.5l6,-6M521,295.5h9M525.5,291v9M522.5,292.5l6,6M522.5,298.5l6,-6M523,302.5h9M527.5,298v9M524.5,299.5l6,6M524.5,305.5l6,-6M524,295.5h9M528.5,291v9M525.5,292.5l6,6M525.5,298.5l6,-6M526,301.5h9M530.5,297v9M527.5,298.5l6,6M527.5,304.5l6,-6M528,293.5h9M532.5,289v9M529.5,290.5l6,6M529.5,296.5l6,-6M530,300.5h9M534.5,296v9M531.5,297.5l6,6M531.5,303.5l6,-6M531,299.5h9M535.5,295v9M532.5,296.5l6,6M532.5,302.5l6,-6M533,299.5h9M537.5,295v9M534.5,296.5l6,6M534.5,302.5l6,-6M534,296.5h9M538.5,292v9M535.5,293.5l6,6M535.5,299.5l6,-6M536,294.5h9M540.5,290v9M537.5,291.5l6,6M537.5,297.5l6,-6M538,291.5h9M542.5,287v9M539.5,288.5l6,6M539.5,294.5l6,-6M540,298.5h9M544.5,294v9M541.5,295.5l6,6M541.5,301.5l6,-6M541,297.5h9M545.5,293v9M542.5,294.5l6,6M542.5,300.5l6,-6M543,302.5h9M547.5,298v9M544.5,299.5l6,6M544.5,305.5l6,-6M545,298.5h9M549.5,294v9M546.5,295.5l6,6M546.5,301.5l6,-6M546,299.5h9M550.5,295v9M547.5,296.5l6,6M547.5,302.5l6,-6M548,296.5h9M552.5,292v9M549.5,293.5l6,6M549.5,299.5l6,-6M550,303.5h9M554.5,299v9M551.5,300.5l6,6M551.5,306.5l6,-6M551,299.5h9M555.5,295v9M552.5,296.5l6,6M552.5,302.5l6,-6M553,299.5h9M557.5,295v9M554.5,296.5l6,6M554.5,302.5l6,-6M555,293.5h9M559.5,289v9M556.5,290.5l6,6M556.5,296.5l6,-6M556,297.5h9M560.5,293v9M557.5,294.5l6,6M557.5,300.5l6,-6M558,293.5h9M562.5,289v9M559.5,290.5l6,6M559.5,296.5l6,-6M559,300.5h9M563.5,296v9M560.5,297.5l6,6M560.5,303.5l6,-6M561,299.5h9M565.5,295v9M562.5,296.5l6,6M562.5,302.5l6,-6M563,296.5h9M567.5,292v9M564.5,293.5l6,6M564.5,299.5l6,-6M564,290.5h9M568.5,286v9M565.5,287.5l6,6M565.5,293.5l6,-6M566,296.5h9M570.5,292v9M567.5,293.5l6,6M567.5,299.5l6,-6M567,298.5h9M571.5,294v9M568.5,295.5l6,6M568.5,301.5l6,-6M569,289.5h9M573.5,285v9M570.5,286.5l6,6M570.5,292.5l6,-6M571,294.5h9M575.5,290v9M572.5,291.5l6,6M572.5,297.5l6,-6M572,296.5h9M576.5,292v9M573.5,293.5l6,6M573.5,299.5l6,-6M574,293.5h9M578.5,289v9M575.5,290.5l6,6M575.5,296.5l6,-6M575,291.5h9M579.5,287v9M576.5,288.5l6,6M576.5,294.5l6,-6M577,294.5h9M581.5,290v9M578.5,291.5l6,6M578.5,297.5l6,-6M578,297.5h9M582.5,293v9M579.5,294.5l6,6M579.5,300.5l6,-6M580,300.5h9M584.5,296v9M581.5,297.5l6,6M581.5,303.5l6,-6M582,298.5h9M586.5,294v9M583.5,295.5l6,6M583.5,301.5l6,-6M583,293.5h9M587.5,289v9M584.5,290.5l6,6M584.5,296.5l6,-6M585,298.5h9M589.5,294v9M586.5,295.5l6,6M586.5,301.5l6,-6M586,292.5h9M590.5,288v9M587.5,289.5l6,6M587.5,295.5l6,-6M588,293.5h9M592.5,289v9M589.5,290.5l6,6M589.5,296.5l6,-6M590,291.5h9M594.5,287v9M591.5,288.5l6,6M591.5,294.5l6,-6M591,289.5h9M595.5,285v9M592.5,286.5l6,6M592.5,292.5l6,-6M593,297.5h9M597.5,293v9M594.5,294.5l6,6M594.5,300.5l6,-6M594,290.5h9M598.5,286v9M595.5,287.5l6,6M595.5,293.5l6,-6M596,300.5h9M600.5,296v9M597.5,297.5l6,6M597.5,303.5l6,-6M597,297.5h9M601.5,293v9M598.5,294.5l6,6M598.5,300.5l6,-6M599,295.5h9M603.5,291v9M600.5,292.5l6,6M600.5,298.5l6,-6M601,296.5h9M605.5,292v9M602.5,293.5l6,6M602.5,299.5l6,-6M602,288.5h9M606.5,284v9M603.5,285.5l6,6M603.5,291.5l6,-6M604,286.5h9M608.5,282v9M605.5,283.5l6,6M605.5,289.5l6,-6M606,284.5h9M610.5,280v9M607.5,281.5l6,6M607.5,287.5l6,-6M607,290.5h9M611.5,286v9M608.5,287.5l6,6M608.5,293.5l6,-6M609,290.5h9M613.5,286v9M610.5,287.5l6,6M610.5,293.5l6,-6M610,287.5h9M614.5,283v9M611.5,284.5l6,6M611.5,290.5l6,-6M612,287.5h9M616.5,283v9M613.5,284.5l6,6M613.5,290.5l6,-6M613,296.5h9M617.5,292v9M614.5,293.5l6,6M614.5,299.5l6,-6M615,298.5h9M619.5,294v9M616.5,295.5l6,6M616.5,301.5l6,-6M617,295.5h9M621.5,291v9M618.5,292.5l6,6M618.5,298.5l6,-6M619,297.5h9M623.5,293v9M620.5,294.5l6,6M620.5,300.5l6,-6M620,295.5h9M624.5,291v9M621.5,292.5l6,6M621.5,298.5l6,-6M622,294.5h9M626.5,290v9M623.5,291.5l6,6M623.5,297.5l6,-6M624,296.5h9M628.5,292v9M625.5,293.5l6,6M625.5,299.5l6,-6M626,295.5h9M630.5,291v9M627.5,292.5l6,6M627.5,298.5l6,-6M628,294.5h9M632.5,290v9M629.5,291.5l6,6M629.5,297.5l6,-6M629,291.5h9M633.5,287v9M630.5,288.5l6,6M630.5,294.5l6,-6M631,297.5h9M635.5,293v9M632.5,294.5l6,6M632.5,300.5l6,-6M633,294.5h9M637.5,290v9M634.5,291.5l6,6M634.5,297.5l6,-6M635,296.5h9M639.5,292v9M636.5,293.5l6,6M636.5,299.5l6,-6M636,293.5h9M640.5,289v9M637.5,290.5l6,6M637.5,296.5l6,-6M638,295.5h9M642.5,291v9M639.5,292.5l6,6M639.5,298.5l6,-6M640,299.5h9M644.5,295v9M641.5,296.5l6,6M641.5,302.5l6,-6M642,296.5h9M646.5,292v9M643.5,293.5l6,6M643.5,299.5l6,-6M643,298.5h9M647.5,294v9M644.5,295.5l6,6M644.5,301.5l6,-6M645,293.5h9M649.5,289v9M646.5,290.5l6,6M646.5,296.5l6,-6M647,296.5h9M651.5,292v9M648.5,293.5l6,6M648.5,299.5l6,-6M648,292.5h9M652.5,288v9M649.5,289.5l6,6M649.5,295.5l6,-6M650,293.5h9M654.5,289v9M651.5,290.5l6,6M651.5,296.5l6,-6M652,294.5h9M656.5,290v9M653.5,291.5l6,6M653.5,297.5l6,-6M654,294.5h9M658.5,290v9M655.5,291.5l6,6M655.5,297.5l6,-6M655,291.5h9M659.5,287v9M656.5,288.5l6,6M656.5,294.5l6,-6M657,293.5h9M661.5,289v9M658.5,290.5l6,6M658.5,296.5l6,-6M659,293.5h9M663.5,289v9M660.5,290.5l6,6M660.5,296.5l6,-6M660,296.5h9M664.5,292v9M661.5,293.5l6,6M661.5,299.5l6,-6M662,296.5h9M666.5,292v9M663.5,293.5l6,6M663.5,299.5l6,-6M663,300.5h9M667.5,296v9M664.5,297.5l6,6M664.5,303.5l6,-6M665,296.5h9M669.5,292v9M666.5,293.5l6,6M666.5,299.5l6,-6M667,298.5h9M671.5,294v9M668.5,295.5l6,6M668.5,301.5l6,-6M669,302.5h9M673.5,298v9M670.5,299.5l6,6M670.5,305.5l6,-6M671,294.5h9M675.5,290v9M672.5,291.5l6,6M672.5,297.5l6,-6M673,298.5h9M677.5,294v9M674.5,295.5l6,6M674.5,301.5l6,-6M675,297.5h9M679.5,293v9M676.5,294.5l6,6M676.5,300.5l6,-6M677,294.5h9M681.5,290v9M678.5,291.5l6,6M678.5,297.5l6,-6M678,298.5h9M682.5,294v9M679.5,295.5l6,6M679.5,301.5l6,-6M680,292.5h9M684.5,288v9M681.5,289.5l6,6M681.5,295.5l6,-6M681,294.5h9M685.5,290v9M682.5,291.5l6,6M682.5,297.5l6,-6M683,294.5h9M687.5,290v9M684.5,291.5l6,6M684.5,297.5l6,-6M684,297.5h9M688.5,293v9M685.5,294.5l6,6M685.5,300.5l6,-6M686,297.5h9M690.5,293v9M687.5,294.5l6,6M687.5,300.5l6,-6M687,296.5h9M691.5,292v9M688.5,293.5l6,6M688.5,299.5l6,-6M689,298.5h9M693.5,294v9M690.5,295.5l6,6M690.5,301.5l6,-6M691,295.5h9M695.5,291v9M692.5,292.5l6,6M692.5,298.5l6,-6M692,292.5h9M696.5,288v9M693.5,289.5l6,6M693.5,295.5l6,-6M695,293.5h9M699.5,289v9M696.5,290.5l6,6M696.5,296.5l6,-6M697,290.5h9M701.5,286v9M698.5,287.5l6,6M698.5,293.5l6,-6M699,290.5h9M703.5,286v9M700.5,287.5l6,6M700.5,293.5l6,-6M700,286.5h9M704.5,282v9M701.5,283.5l6,6M701.5,289.5l6,-6M702,289.5h9M706.5,285v9M703.5,286.5l6,6M703.5,292.5l6,-6M704,287.5h9M708.5,283v9M705.5,284.5l6,6M705.5,290.5l6,-6M706,291.5h9M710.5,287v9M707.5,288.5l6,6M707.5,294.5l6,-6M708,294.5h9M712.5,290v9M709.5,291.5l6,6M709.5,297.5l6,-6M709,296.5h9M713.5,292v9M710.5,293.5l6,6M710.5,299.5l6,-6M711,296.5h9M715.5,292v9M712.5,293.5l6,6M712.5,299.5l6,-6M712,296.5h9M716.5,292v9M713.5,293.5l6,6M713.5,299.5l6,-6M714,295.5h9M718.5,291v9M715.5,292.5l6,6M715.5,298.5l6,-6M715,295.5h9M719.5,291v9M716.5,292.5l6,6M716.5,298.5l6,-6M717,292.5h9M721.5,288v9M718.5,289.5l6,6M718.5,295.5l6,-6M719,297.5h9M723.5,293v9M720.5,294.5l6,6M720.5,300.5l6,-6M720,294.5h9M724.5,290v9M721.5,291.5l6,6M721.5,297.5l6,-6M722,294.5h9M726.5,290v9M723.5,291.5l6,6M723.5,297.5l6,-6M724,300.5h9M728.5,296v9M725.5,297.5l6,6M725.5,303.5l6,-6M726,296.5h9M730.5,292v9M727.5,293.5l6,6M727.5,299.5l6,-6M727,295.5h9M731.5,291v9M728.5,292.5l6,6M728.5,298.5l6,-6M729,294.5h9M733.5,290v9M730.5,291.5l6,6M730.5,297.5l6,-6M731,293.5h9M735.5,289v9M732.5,290.5l6,6M732.5,296.5l6,-6M732,288.5h9M736.5,284v9M733.5,285.5l6,6M733.5,291.5l6,-6M734,294.5h9M738.5,290v9M735.5,291.5l6,6M735.5,297.5l6,-6M736,296.5h9M740.5,292v9M737.5,293.5l6,6M737.5,299.5l6,-6M737,293.5h9M741.5,289v9M738.5,290.5l6,6M738.5,296.5l6,-6M739,297.5h9M743.5,293v9M740.5,294.5l6,6M740.5,300.5l6,-6M741,298.5h9M745.5,294v9M742.5,295.5l6,6M742.5,301.5l6,-6M743,299.5h9M747.5,295v9M744.5,296.5l6,6M744.5,302.5l6,-6M745,298.5h9M749.5,294v9M746.5,295.5l6,6M746.5,301.5l6,-6M746,292.5h9M750.5,288v9M747.5,289.5l6,6M747.5,295.5l6,-6M748,296.5h9M752.5,292v9M749.5,293.5l6,6M749.5,299.5l6,-6M750,297.5h9M754.5,293v9M751.5,294.5l6,6M751.5,300.5l6,-6M752,297.5h9M756.5,293v9M753.5,294.5l6,6M753.5,300.5l6,-6M753,297.5h9M757.5,293v9M754.5,294.5l6,6M754.5,300.5l6,-6M755,296.5h9M759.5,292v9M756.5,293.5l6,6M756.5,299.5l6,-6M757,290.5h9M761.5,286v9M758.5,287.5l6,6M758.5,293.5l6,-6M758,293.5h9M762.5,289v9M759.5,290.5l6,6M759.5,296.5l6,-6M760,291.5h9M764.5,287v9M761.5,288.5l6,6M761.5,294.5l6,-6M762,289.5h9M766.5,285v9M763.5,286.5l6,6M763.5,292.5l6,-6M763,297.5h9M767.5,293v9M764.5,294.5l6,6M764.5,300.5l6,-6M765,291.5h9M769.5,287v9M766.5,288.5l6,6M766.5,294.5l6,-6M767,294.5h9M771.5,290v9M768.5,291.5l6,6M768.5,297.5l6,-6M768,295.5h9M772.5,291v9M769.5,292.5l6,6M769.5,298.5l6,-6M770,295.5h9M774.5,291v9M771.5,292.5l6,6M771.5,298.5l6,-6M771,293.5h9M775.5,289v9M772.5,290.5l6,6M772.5,296.5l6,-6M773,294.5h9M777.5,290v9M774.5,291.5l6,6M774.5,297.5l6,-6M775,294.5h9M779.5,290v9M776.5,291.5l6,6M776.5,297.5l6,-6M777,293.5h9M781.5,289v9M778.5,290.5l6,6M778.5,296.5l6,-6M779,294.5h9M783.5,290v9M780.5,291.5l6,6M780.5,297.5l6,-6M780,297.5h9M784.5,293v9M781.5,294.5l6,6M781.5,300.5l6,-6M782,293.5h9M786.5,289v9M783.5,290.5l6,6M783.5,296.5l6,-6M784,296.5h9M788.5,292v9M785.5,293.5l6,6M785.5,299.5l6,-6M785,297.5h9M789.5,293v9M786.5,294.5l6,6M786.5,300.5l6,-6M787,301.5h9M791.5,297v9M788.5,298.5l6,6M788.5,304.5l6,-6M788,293.5h9M792.5,289v9M789.5,290.5l6,6M789.5,296.5l6,-6M790,293.5h9M794.5,289v9M791.5,290.5l6,6M791.5,296.5l6,-6M791,301.5h9M795.5,297v9M792.5,298.5l6,6M792.5,304.5l6,-6M793,297.5h9M797.5,293v9M794.5,294.5l6,6M794.5,300.5l6,-6M795,290.5h9M799.5,286v9M796.5,287.5l6,6M796.5,293.5l6,-6M796,288.5h9M800.5,284v9M797.5,285.5l6,6M797.5,291.5l6,-6M798,297.5h9M802.5,293v9M799.5,294.5l6,6M799.5,300.5l6,-6M800,284.5h9M804.5,280v9M801.5,281.5l6,6M801.5,287.5l6,-6M802,292.5h9M806.5,288v9M803.5,289.5l6,6M803.5,295.5l6,-6M803,290.5h9M807.5,286v9M804.5,287.5l6,6M804.5,293.5l6,-6M805,296.5h9M809.5,292v9M806.5,293.5l6,6M806.5,299.5l6,-6M806,299.5h9M810.5,295v9M807.5,296.5l6,6M807.5,302.5l6,-6M808,297.5h9M812.5,293v9M809.5,294.5l6,6M809.5,300.5l6,-6M264,246.5h9M268.5,242v9M265.5,243.5l6,6M265.5,249.5l6,-6" stroke="#00ff00" stroke-width="1" fill="none" shape-rendering="crispEdges"/>
<g fill="none" stroke="#ff0000" stroke-width="1"><circle cx="269.7" cy="341.7" r="4"/><circle cx="271.4" cy="341.7" r="4"/><circle cx="273.1" cy="340.5" r="4"/><circle cx="274.9" cy="341.3" r="4"/><circle cx="276.8" cy="341" r="4"/><circle cx="278.8" cy="343.2" r="4"/><circle cx="280.7" cy="341.3" r="4"/><circle cx="282.5" cy="342.3" r="4"/><circle cx="284.4" cy="342.4" r="4"/><circle cx="286.3" cy="340.8" r="4"/><circle cx="288.1" cy="342.3" r="4"/><circle cx="289.9" cy="341.9" r="4"/><circle cx="291.6" cy="342.7" r="4"/><circle cx="293.3" cy="342.1" r="4"/><circle cx="295.1" cy="342.4" r="4"/><circle cx="297" cy="343" r="4"/><circle cx="299.1" cy="342.5" r="4"/><circle cx="300.9" cy="342.4" r="4"/><circle cx="302.8" cy="341.9" r="4"/><circle cx="304.8" cy="344.3" r="4"/><circle cx="306.7" cy="343.4" r="4"/><circle cx="308.4" cy="343.3" r="4"/><circle cx="310" cy="344.1" r="4"/><circle cx="311.6" cy="342.1" r="4"/><circle cx="313.3" cy="342.3" r="4"/><circle cx="315.1" cy="341.6" r="4"/><circle cx="316.9" cy="342.2" r="4"/><circle cx="318.5" cy="341.8" r="4"/><circle cx="320.3" cy="343.8" r="4"/><circle cx="322.1" cy="341.7" r="4"/><circle cx="324" cy="341.3" r="4"/><circle cx="325.8" cy="341" r="4"/><circle cx="327.6" cy="341.3" r="4"/><circle cx="329.2" cy="341.2" r="4"/><circle cx="330.8" cy="342.3" r="4"/><circle cx="332.5" cy="341.6" r="4"/><circle cx="334.2" cy="340.2" r="4"/><circle cx="335.8" cy="341.7" r="4"/><circle cx="337.3" cy="340.2" r="4"/><circle cx="338.9" cy="342.8" r="4"/><circle cx="340.6" cy="340.7" r="4"/><circle cx="342.7" cy="342" r="4"/><circle cx="344.8" cy="342.5" r="4"/><circle cx="346.9" cy="342.3" r="4"/><circle cx="348.8" cy="340.2" r="4"/><circle cx="350.8" cy="342.3" r="4"/><circle cx="352.8" cy="342.2" r="4"/><circle cx="354.9" cy="344.4" r="4"/><circle cx="357" cy="341.7" r="4"/><circle cx="358.9" cy="341.6" r="4"/><circle cx="360.7" cy="340" r="4"/><circle cx="362.6" cy="342.5" r="4"/><circle cx="364.5" cy="345.1" r="4"/><circle cx="366.4" cy="343.7" r="4"/><circle cx="368.2" cy="341.8" r="4"/><circle cx="370" cy="343" r="4"/><circle cx="371.9" cy="341.7" r="4"/><circle cx="373.7" cy="344.1" r="4"/><circle cx="375.4" cy="342.6" r="4"/><circle cx="377.2" cy="342.5" r="4"/><circle cx="379.2" cy="342.8" r="4"/><circle cx="381.2" cy="342.9" r="4"/><circle cx="383" cy="341.7" r="4"/><circle cx="384.8" cy="341.8" r="4"/><circle cx="386.7" cy="343.8" r="4"/><circle cx="388.6" cy="343.2" r="4"/><circle cx="390.5" cy="341" r="4"/><circle cx="392.1" cy="343" r="4"/><circle cx="393.9" cy="341.4" r="4"/><circle cx="395.8" cy="340.8" r="4"/><circle cx="397.7" cy="344.9" r="4"/><circle cx="399.6" cy="344.7" r="4"/><circle cx="401.4" cy="343.8" r="4"/><circle cx="403.1" cy="344" r="4"/><circle cx="404.6" cy="345.5" r="4"/><circle cx="406.1" cy="343.7" r="4"/><circle cx="407.7" cy="345" r="4"/><circle cx="409.3" cy="341.3" r="4"/><circle cx="411.1" cy="341.7" r="4"/><circle cx="413.1" cy="340.3" r="4"/><circle cx="415.1" cy="340.2" r="4"/><circle cx="416.7" cy="340.8" r="4"/><circle cx="418.5" cy="343.6" r="4"/><circle cx="420.3" cy="341.8" r="4"/><circle cx="422.2" cy="342.5" r="4"/><circle cx="423.9" cy="342" r="4"/><circle cx="425.6" cy="342.3" r="4"/><circle cx="427.4" cy="341.2" r="4"/><circle cx="429.2" cy="341.3" r="4"/><circle cx="430.9" cy="341.6" r="4"/><circle cx="432.5" cy="344" r="4"/><circle cx="434.2" cy="343.1" r="4"/><circle cx="436" cy="344.1" r="4"/><circle cx="437.8" cy="342.3" r="4"/><circle cx="439.4" cy="343.3" r="4"/><circle cx="441" cy="343" r="4"/><circle cx="442.7" cy="342.5" r="4"/><circle cx="444.5" cy="342" r="4"/><circle cx="446.4" cy="341.4" r="4"/><circle cx="448.3" cy="344.6" r="4"/><circle cx="450" cy="342.9" r="4"/><circle cx="451.8" cy="344.2" r="4"/><circle cx="453.7" cy="343.3" r="4"/><circle cx="455.5" cy="342.4" r="4"/><circle cx="457.2" cy="343.1" r="4"/><circle cx="458.8" cy="341.4" r="4"/><circle cx="460.4" cy="343" r="4"/><circle cx="461.9" cy="341.9" r="4"/><circle cx="463.3" cy="339.4" r="4"/><circle cx="464.7" cy="344.3" r="4"/><circle cx="466.2" cy="340.1" r="4"/><circle cx="467.8" cy="341.2" r="4"/><circle cx="469.5" cy="341.3" r="4"/><circle cx="471.2" cy="339.8" r="4"/><circle cx="472.8" cy="341.3" r="4"/><circle cx="474.5" cy="342.5" r="4"/><circle cx="476.3" cy="343" r="4"/><circle cx="478" cy="341.5" r="4"/><circle cx="479.8" cy="344.1" r="4"/><circle cx="481.5" cy="344.8" r="4"/><circle cx="483" cy="345" r="4"/><circle cx="484.5" cy="343.8" r="4"/><circle cx="485.9" cy="343.9" r="4"/><circle cx="487.4" cy="343.8" r="4"/><circle cx="488.8" cy="342.9" r="4"/><circle cx="490.2" cy="342.8" r="4"/><circle cx="491.8" cy="343" r="4"/><circle cx="493.5" cy="344.1" r="4"/><circle cx="495.3" cy="345.9" r="4"/><circle cx="497.1" cy="343.1" r="4"/><circle cx="498.8" cy="344.3" r="4"/><circle cx="500.5" cy="344.2" r="4"/><circle cx="502.2" cy="342.2" r="4"/><circle cx="504" cy="342" r="4"/><circle cx="505.7" cy="341.1" r="4"/><circle cx="507.5" cy="343.7" r="4"/><circle cx="509.2" cy="343" r="4"/><circle cx="511" cy="341.9" r="4"/><circle cx="512.7" cy="341.5" r="4"/><circle cx="514.4" cy="340.2" r="4"/><circle cx="516.1" cy="341.7" r="4"/><circle cx="517.7" cy="342.4" r="4"/><circle cx="519" cy="341.8" r="4"/><circle cx="520.4" cy="342" r="4"/><circle cx="521.9" cy="342.6" r="4"/><circle cx="523.4" cy="342.9" r="4"/><circle cx="525.1" cy="342.7" r="4"/><circle cx="527" cy="341.6" r="4"/><circle cx="528.7" cy="342.3" r="4"/><circle cx="530.4" cy="341.5" r="4"/><circle cx="532.2" cy="342.1" r="4"/><circle cx="533.9" cy="341" r="4"/><circle cx="535.7" cy="341.5" r="4"/><circle cx="537.3" cy="343.4" r="4"/><circle cx="538.9" cy="342.5" r="4"/><circle cx="540.6" cy="341.9" r="4"/><circle cx="542.4" cy="343.6" r="4"/><circle cx="543.9" cy="343.1" r="4"/><circle cx="545.6" cy="341.3" r="4"/><circle cx="547.3" cy="341.6" r="4"/><circle cx="549" cy="341.6" r="4"/><circle cx="550.8" cy="341.2" r="4"/><circle cx="552.4" cy="341.8" r="4"/><circle cx="554.1" cy="341.6" r="4"/><circle cx="555.8" cy="341.6" r="4"/><circle cx="557.5" cy="342.2" r="4"/><circle cx="559.1" cy="342" r="4"/><circle cx="560.6" cy="342.1" r="4"/><circle cx="562.2" cy="342.8" r="4"/><circle cx="563.8" cy="342.9" r="4"/><circle cx="565.5" cy="342.8" r="4"/><circle cx="567" cy="342.8" r="4"/><circle cx="568.6" cy="341.4" r="4"/><circle cx="570.1" cy="344.8" r="4"/><circle cx="571.7" cy="342" r="4"/><circle cx="573.4" cy="341.4" r="4"/><circle cx="575" cy="342.2" r="4"/><circle cx="576.5" cy="343.7" r="4"/><circle cx="578" cy="342.5" r="4"/><circle cx="579.7" cy="342.7" r="4"/><circle cx="581.3" cy="343.5" r="4"/><circle cx="582.9" cy="342" r="4"/><circle cx="584.4" cy="341.1" r="4"/><circle cx="585.9" cy="343" r="4"/><circle cx="587.5" cy="341.9" r="4"/><circle cx="589.1" cy="341.8" r="4"/><circle cx="590.6" cy="343" r="4"/><circle cx="592.2" cy="342" r="4"/><circle cx="593.9" cy="342.7" r="4"/><circle cx="595.4" cy="341.4" r="4"/><circle cx="596.9" cy="343.7" r="4"/><circle cx="598.5" cy="343.1" r="4"/><circle cx="600.1" cy="340.7" r="4"/><circle cx="601.7" cy="342.1" r="4"/><circle cx="603.3" cy="341.7" r="4"/><circle cx="605" cy="341.5" r="4"/><circle cx="606.7" cy="343" r="4"/><circle cx="608.5" cy="341.3" r="4"/><circle cx="610.2" cy="344.2" r="4"/><circle cx="611.9" cy="344.7" r="4"/><circle cx="613.4" cy="343.9" r="4"/><circle cx="614.9" cy="344" r="4"/><circle cx="616.3" cy="343.8" r="4"/><circle cx="617.9" cy="342.2" r="4"/><circle cx="619.5" cy="342" r="4"/><circle cx="621.3" cy="342.6" r="4"/><circle cx="623" cy="342.7" r="4"/><circle cx="624.7" cy="341.2" r="4"/><circle cx="626.6" cy="341.4" r="4"/><circle cx="628.5" cy="342.1" r="4"/><circle cx="630.4" cy="342.2" r="4"/><circle cx="632.1" cy="341.6" r="4"/><circle cx="633.9" cy="342.2" r="4"/><circle cx="635.6" cy="342.1" r="4"/><circle cx="637.4" cy="342.5" r="4"/><circle cx="639.1" cy="341.2" r="4"/><circle cx="640.6" cy="341.9" r="4"/><circle cx="642.3" cy="342.3" r="4"/><circle cx="644.1" cy="341.3" r="4"/><circle cx="645.9" cy="344" r="4"/><circle cx="647.7" cy="341.1" r="4"/><circle cx="649.4" cy="340.6" r="4"/><circle cx="651.1" cy="342.2" r="4"/><circle cx="652.8" cy="343.9" r="4"/><circle cx="654.6" cy="344.2" r="4"/><circle cx="656.3" cy="342.8" r="4"/><circle cx="658" cy="343.8" r="4"/><circle cx="659.8" cy="343.8" r="4"/><circle cx="661.5" cy="343.1" r="4"/><circle cx="663" cy="343.1" r="4"/><circle cx="664.5" cy="343.8" r="4"/><circle cx="666" cy="341.8" r="4"/><circle cx="667.7" cy="341.9" r="4"/><circle cx="669.4" cy="341" r="4"/><circle cx="671.4" cy="341.2" r="4"/><circle cx="673.3" cy="341.6" r="4"/><circle cx="675.3" cy="341.3" r="4"/><circle cx="677.3" cy="339.9" r="4"/><circle cx="679.3" cy="342.1" r="4"/><circle cx="681" cy="340.5" r="4"/><circle cx="682.6" cy="340.9" r="4"/><circle cx="684.2" cy="339" r="4"/><circle cx="685.8" cy="340.6" r="4"/><circle cx="687.3" cy="342.7" r="4"/><circle cx="688.9" cy="340.9" r="4"/><circle cx="690.4" cy="339.7" r="4"/><circle cx="691.9" cy="342.2" r="4"/><circle cx="693.3" cy="341.2" r="4"/><circle cx="694.9" cy="342.1" r="4"/><circle cx="696.8" cy="342.2" r="4"/><circle cx="698.9" cy="343.3" r="4"/><circle cx="701" cy="343.2" r="4"/><circle cx="703" cy="344" r="4"/><circle cx="704.9" cy="342.2" r="4"/><circle cx="706.8" cy="345.4" r="4"/><circle cx="708.6" cy="345.1" r="4"/><circle cx="710.4" cy="344.8" r="4"/><circle cx="712" cy="347.3" r="4"/><circle cx="713.6" cy="343.5" r="4"/><circle cx="715" cy="342.5" r="4"/><circle cx="716.5" cy="341.8" r="4"/><circle cx="718" cy="343.7" r="4"/><circle cx="719.7" cy="342.6" r="4"/><circle cx="721.4" cy="343.3" r="4"/><circle cx="723.2" cy="343.5" r="4"/><circle cx="724.9" cy="342.7" r="4"/><circle cx="726.6" cy="341.7" r="4"/><circle cx="728.3" cy="342.8" r="4"/><circle cx="730.1" cy="342.1" r="4"/><circle cx="731.9" cy="340.6" r="4"/><circle cx="733.5" cy="340.8" r="4"/><circle cx="735.1" cy="339.5" r="4"/><circle cx="736.7" cy="341.9" r="4"/><circle cx="738.4" cy="341.1" r="4"/><circle cx="740.1" cy="341.6" r="4"/><circle cx="741.9" cy="342.6" r="4"/><circle cx="743.7" cy="341.8" r="4"/><circle cx="745.5" cy="342.2" r="4"/><circle cx="747.4" cy="341.5" r="4"/><circle cx="749.2" cy="340.8" r="4"/><circle cx="750.9" cy="342.2" r="4"/><circle cx="752.6" cy="339.7" r="4"/><circle cx="754.3" cy="341.1" r="4"/><circle cx="756" cy="341.8" r="4"/><circle cx="757.6" cy="340.9" r="4"/><circle cx="759.3" cy="342.4" r="4"/><circle cx="761.1" cy="342.1" r="4"/><circle cx="762.8" cy="344.2" r="4"/><circle cx="764.5" cy="344" r="4"/><circle cx="766.2" cy="343.7" r="4"/><circle cx="767.8" cy="342.9" r="4"/><circle cx="769.5" cy="342.2" r="4"/><circle cx="771" cy="342.9" r="4"/><circle cx="772.5" cy="342.4" r="4"/><circle cx="774" cy="342.8" r="4"/><circle cx="775.6" cy="343.7" r="4"/><circle cx="777.3" cy="343.6" r="4"/><circle cx="779.2" cy="343" r="4"/><circle cx="781.1" cy="343.4" r="4"/><circle cx="783" cy="340.5" r="4"/><circle cx="784.7" cy="343.3" r="4"/><circle cx="786.3" cy="345.1" r="4"/><circle cx="787.9" cy="342.7" r="4"/><circle cx="789.5" cy="342.5" r="4"/><circle cx="791.1" cy="344.2" r="4"/><circle cx="792.6" cy="342.4" r="4"/><circle cx="794.1" cy="343.8" r="4"/><circle cx="795.7" cy="341.7" r="4"/><circle cx="797.3" cy="342" r="4"/><circle cx="799" cy="342.9" r="4"/><circle cx="800.8" cy="342.2" r="4"/><circle cx="802.5" cy="343.1" r="4"/><circle cx="804.3" cy="344.1" r="4"/><circle cx="806.1" cy="343.9" r="4"/><circle cx="807.7" cy="342.7" r="4"/><circle cx="809.3" cy="343" r="4"/><circle cx="810.8" cy="341.6" r="4"/><circle cx="812.4" cy="340.7" r="4"/><circle cx="268.7" cy="329" r="4"/><circle cx="268.7" cy="403.2" r="4"/></g>
<path d="M266,372.5h9M270.5,368v9M267.5,369.5l6,6M267.5,375.5l6,-6M267,374.5h9M271.5,370v9M268.5,371.5l6,6M268.5,377.5l6,-6M269,373.5h9M273.5,369v9M270.5,370.5l6,6M270.5,376.5l6,-6M271,373.5h9M275.5,369v9M272.5,370.5l6,6M272.5,376.5l6,-6M273,372.5h9M277.5,368v9M274.5,369.5l6,6M274.5,375.5l6,-6M275,374.5h9M279.5,370v9M276.5,371.5l6,6M276.5,377.5l6,-6M277,373.5h9M281.5,369v9M278.5,370.5l6,6M278.5,376.5l6,-6M278,372.5h9M282.5,368v9M279.5,369.5l6,6M279.5,375.5l6,-6M280,372.5h9M284.5,368v9M281.5,369.5l6,6M281.5,375.5l6,-6M282,372.5h9M286.5,368v9M283.5,369.5l6,6M283.5,375.5l6,-6M284,373.5h9M288.5,369v9M285.5,370.5l6,6M285.5,376.5l6,-6M286,372.5h9M290.5,368v9M287.5,369.5l6,6M287.5,375.5l6,-6M287,374.5h9M291.5,370v9M288.5,371.5l6,6M288.5,377.5l6,-6M289,374.5h9M293.5,370v9M290.5,371.5l6,6M290.5,377.5l6,-6M291,375.5h9M295.5,371v9M292.5,372.5l6,6M292.5,378.5l6,-6M293,375.5h9M297.5,371v9M294.5,372.5l6,6M294.5,378.5l6,-6M295,374.5h9M299.5,370v9M296.5,371.5l6,6M296.5,377.5l6,-6M297,375.5h9M301.5,371v9M298.5,372.5l6,6M298.5,378.5l6,-6M299,372.5h9M303.5,368v9M300.5,369.5l6,6M300.5,375.5l6,-6M301,373.5h9M305.5,369v9M302.5,370.5l6,6M302.5,376.5l6,-6M303,374.5h9M307.5,370v9M304.5,371.5l6,6M304.5,377.5l6,-6M304,374.5h9M308.5,370v9M305.5,371.5l6,6M305.5,377.5l6,-6M306,375.5h9M310.5,371v9M307.5,372.5l6,6M307.5,378.5l6,-6M307,372.5h9M311.5,368v9M308.5,369.5l6,6M308.5,375.5l6,-6M309,375.5h9M313.5,371v9M310.5,372.5l6,6M310.5,378.5l6,-6M311,374.5h9M315.5,370v9M312.5,371.5l6,6M312.5,377.5l6,-6M313,372.5h9M317.5,368v9M314.5,369.5l6,6M314.5,375.5l6,-6M314,371.5h9M318.5,367v9M315.5,368.5l6,6M315.5,374.5l6,-6M316,372.5h9M320.5,368v9M317.5,369.5l6,6M317.5,375.5l6,-6M318,372.5h9M322.5,368v9M319.5,369.5l6,6M319.5,375.5l6,-6M320,373.5h9M324.5,369v9M321.5,370.5l6,6M321.5,376.5l6,-6M322,373.5h9M326.5,369v9M323.5,370.5l6,6M323.5,376.5l6,-6M323,371.5h9M327.5,367v9M324.5,368.5l6,6M324.5,374.5l6,-6M325,372.5h9M329.5,368v9M326.5,369.5l6,6M326.5,375.5l6,-6M327,371.5h9M331.5,367v9M328.5,368.5l6,6M328.5,374.5l6,-6M328,371.5h9M332.5,367v9M329.5,368.5l6,6M329.5,374.5l6,-6M330,372.5h9M334.5,368v9M331.5,369.5l6,6M331.5,375.5l6,-6M332,374.5h9M336.5,370v9M333.5,371.5l6,6M333.5,377.5l6,-6M333,373.5h9M337.5,369v9M334.5,370.5l6,6M334.5,376.5l6,-6M335,372.5h9M339.5,368v9M336.5,369.5l6,6M336.5,375.5l6,-6M336,373.5h9M340.5,369v9M337.5,370.5l6,6M337.5,376.5l6,-6M339,374.5h9M343.5,370v9M340.5,371.5l6,6M340.5,377.5l6,-6M341,373.5h9M345.5,369v9M342.5,370.5l6,6M342.5,376.5l6,-6M343,373.5h9M347.5,369v9M344.5,370.5l6,6M344.5,376.5l6,-6M345,373.5h9M349.5,369v9M346.5,370.5l6,6M346.5,376.5l6,-6M347,373.5h9M351.5,369v9M348.5,370.5l6,6M348.5,376.5l6,-6M349,372.5h9M353.5,368v9M350.5,369.5l6,6M350.5,375.5l6,-6M351,371.5h9M355.5,367v9M352.5,368.5l6,6M352.5,374.5l6,-6M353,373.5h9M357.5,369v9M354.5,370.5l6,6M354.5,376.5l6,-6M355,373.5h9M359.5,369v9M356.5,370.5l6,6M356.5,376.5l6,-6M357,373.5h9M361.5,369v9M358.5,370.5l6,6M358.5,376.5l6,-6M358,373.5h9M362.5,369v9M359.5,370.5l6,6M359.5,376.5l6,-6M360,373.5h9M364.5,369v9M361.5,370.5l6,6M361.5,376.5l6,-6M362,372.5h9M366.5,368v9M363.5,369.5l6,6M363.5,375.5l6,-6M364,372.5h9M368.5,368v9M365.5,369.5l6,6M365.5,375.5l6,-6M366,374.5h9M370.5,370v9M367.5,371.5l6,6M367.5,377.5l6,-6M368,372.5h9M372.5,368v9M369.5,369.5l6,6M369.5,375.5l6,-6M370,371.5h9M374.5,367v9M371.5,368.5l6,6M371.5,374.5l6,-6M371,374.5h9M375.5,370v9M372.5,371.5l6,6M372.5,377.5l6,-6M373,373.5h9M377.5,369v9M374.5,370.5l6,6M374.5,376.5l6,-6M375,373.5h9M379.5,369v9M376.5,370.5l6,6M376.5,376.5l6,-6M377,372.5h9M381.5,368v9M378.5,369.5l6,6M378.5,375.5l6,-6M379,374.5h9M383.5,370v9M380.5,371.5l6,6M380.5,377.5l6,-6M381,373.5h9M385.5,369v9M382.5,370.5l6,6M382.5,376.5l6,-6M383,372.5h9M387.5,368v9M384.5,369.5l6,6M384.5,375.5l6,-6M384,372.5h9M388.5,368v9M385.5,369.5l6,6M385.5,375.5l6,-6M386,374.5h9M390.5,370v9M387.5,371.5l6,6M387.5,377.5l6,-6M388,372.5h9M392.5,368v9M389.5,369.5l6,6M389.5,375.5l6,-6M390,375.5h9M394.5,371v9M391.5,372.5l6,6M391.5,378.5l6,-6M392,377.5h9M396.5,373v9M393.5,374.5l6,6M393.5,380.5l6,-6M394,378.5h9M398.5,374v9M395.5,375.5l6,6M395.5,381.5l6,-6M395,379.5h9M399.5,375v9M396.5,376.5l6,6M396.5,382.5l6,-6M397,377.5h9M401.5,373v9M398.5,374.5l6,6M398.5,380.5l6,-6M399,375.5h9M403.5,371v9M400.5,372.5l6,6M400.5,378.5l6,-6M400,374.5h9M404.5,370v9M401.5,371.5l6,6M401.5,377.5l6,-6M402,373.5h9M406.5,369v9M403.5,370.5l6,6M403.5,376.5l6,-6M404,373.5h9M408.5,369v9M405.5,370.5l6,6M405.5,376.5l6,-6M405,374.5h9M409.5,370v9M406.5,371.5l6,6M406.5,377.5l6,-6M407,373.5h9M411.5,369v9M408.5,370.5l6,6M408.5,376.5l6,-6M409,372.5h9M413.5,368v9M410.5,369.5l6,6M410.5,375.5l6,-6M411,372.5h9M415.5,368v9M412.5,369.5l6,6M412.5,375.5l6,-6M413,373.5h9M417.5,369v9M414.5,370.5l6,6M414.5,376.5l6,-6M414,374.5h9M418.5,370v9M415.5,371.5l6,6M415.5,377.5l6,-6M416,374.5h9M420.5,370v9M417.5,371.5l6,6M417.5,377.5l6,-6M418,373.5h9M422.5,369v9M419.5,370.5l6,6M419.5,376.5l6,-6M420,371.5h9M424.5,367v9M421.5,368.5l6,6M421.5,374.5l6,-6M421,372.5h9M425.5,368v9M422.5,369.5l6,6M422.5,375.5l6,-6M423,373.5h9M427.5,369v9M424.5,370.5l6,6M424.5,376.5l6,-6M425,373.5h9M429.5,369v9M426.5,370.5l6,6M426.5,376.5l6,-6M427,373.5h9M431.5,369v9M428.5,370.5l6,6M428.5,376.5l6,-6M428,374.5h9M432.5,370v9M429.5,371.5l6,6M429.5,377.5l6,-6M430,372.5h9M434.5,368v9M431.5,369.5l6,6M431.5,375.5l6,-6M432,374.5h9M436.5,370v9M433.5,371.5l6,6M433.5,377.5l6,-6M434,374.5h9M438.5,370v9M435.5,371.5l6,6M435.5,377.5l6,-6M435,373.5h9M439.5,369v9M436.5,370.5l6,6M436.5,376.5l6,-6M437,372.5h9M441.5,368v9M438.5,369.5l6,6M438.5,375.5l6,-6M439,373.5h9M443.5,369v9M440.5,370.5l6,6M440.5,376.5l6,-6M440,372.5h9M444.5,368v9M441.5,369.5l6,6M441.5,375.5l6,-6M442,372.5h9M446.5,368v9M443.5,369.5l6,6M443.5,375.5l6,-6M444,372.5h9M448.5,368v9M445.5,369.5l6,6M445.5,375.5l6,-6M446,371.5h9M450.5,367v9M447.5,368.5l6,6M447.5,374.5l6,-6M448,371.5h9M452.5,367v9M449.5,368.5l6,6M449.5,374.5l6,-6M450,370.5h9M454.5,366v9M451.5,367.5l6,6M451.5,373.5l6,-6M451,371.5h9M455.5,367v9M452.5,368.5l6,6M452.5,374.5l6,-6M453,371.5h9M457.5,367v9M454.5,368.5l6,6M454.5,374.5l6,-6M455,372.5h9M459.5,368v9M456.5,369.5l6,6M456.5,375.5l6,-6M456,372.5h9M460.5,368v9M457.5,369.5l6,6M457.5,375.5l6,-6M458,371.5h9M462.5,367v9M459.5,368.5l6,6M459.5,374.5l6,-6M459,373.5h9M463.5,369v9M460.5,370.5l6,6M460.5,376.5l6,-6M461,372.5h9M465.5,368v9M462.5,369.5l6,6M462.5,375.5l6,-6M462,372.5h9M466.5,368v9M463.5,369.5l6,6M463.5,375.5l6,-6M464,373.5h9M468.5,369v9M465.5,370.5l6,6M465.5,376.5l6,-6M465,372.5h9M469.5,368v9M466.5,369.5l6,6M466.5,375.5l6,-6M467,372.5h9M471.5,368v9M468.5,369.5l6,6M468.5,375.5l6,-6M469,374.5h9M473.5,370v9M470.5,371.5l6,6M470.5,377.5l6,-6M470,375.5h9M474.5,371v9M471.5,372.5l6,6M471.5,378.5l6,-6M472,374.5h9M476.5,370v9M473.5,371.5l6,6M473.5,377.5l6,-6M474,375.5h9M478.5,371v9M475.5,372.5l6,6M475.5,378.5l6,-6M476,376.5h9M480.5,372v9M477.5,373.5l6,6M477.5,379.5l6,-6M477,378.5h9M481.5,374v9M478.5,375.5l6,6M478.5,381.5l6,-6M479,375.5h9M483.5,371v9M480.5,372.5l6,6M480.5,378.5l6,-6M480,374.5h9M484.5,370v9M481.5,371.5l6,6M481.5,377.5l6,-6M482,374.5h9M486.5,370v9M483.5,371.5l6,6M483.5,377.5l6,-6M483,374.5h9M487.5,370v9M484.5,371.5l6,6M484.5,377.5l6,-6M485,375.5h9M489.5,371v9M486.5,372.5l6,6M486.5,378.5l6,-6M486,375.5h9M490.5,371v9M487.5,372.5l6,6M487.5,378.5l6,-6M488,376.5h9M492.5,372v9M489.5,373.5l6,6M489.5,379.5l6,-6M489,374.5h9M493.5,370v9M490.5,371.5l6,6M490.5,377.5l6,-6M491,375.5h9M495.5,371v9M492.5,372.5l6,6M492.5,378.5l6,-6M493,374.5h9M497.5,370v9M494.5,371.5l6,6M494.5,377.5l6,-6M495,375.5h9M499.5,371v9M496.5,372.5l6,6M496.5,378.5l6,-6M496,373.5h9M500.5,369v9M497.5,370.5l6,6M497.5,376.5l6,-6M498,372.5h9M502.5,368v9M499.5,369.5l6,6M499.5,375.5l6,-6M500,371.5h9M504.5,367v9M501.5,368.5l6,6M501.5,374.5l6,-6M502,372.5h9M506.5,368v9M503.5,369.5l6,6M503.5,375.5l6,-6M503,372.5h9M507.5,368v9M504.5,369.5l6,6M504.5,375.5l6,-6M505,372.5h9M509.5,368v9M506.5,369.5l6,6M506.5,375.5l6,-6M507,372.5h9M511.5,368v9M508.5,369.5l6,6M508.5,375.5l6,-6M509,370.5h9M513.5,366v9M510.5,367.5l6,6M510.5,373.5l6,-6M510,373.5h9M514.5,369v9M511.5,370.5l6,6M511.5,376.5l6,-6M512,372.5h9M516.5,368v9M513.5,369.5l6,6M513.5,375.5l6,-6M514,374.5h9M518.5,370v9M515.5,371.5l6,6M515.5,377.5l6,-6M515,372.5h9M519.5,368v9M516.5,369.5l6,6M516.5,375.5l6,-6M516,372.5h9M520.5,368v9M517.5,369.5l6,6M517.5,375.5l6,-6M518,373.5h9M522.5,369v9M519.5,370.5l6,6M519.5,376.5l6,-6M519,374.5h9M523.5,370v9M520.5,371.5l6,6M520.5,377.5l6,-6M521,374.5h9M525.5,370v9M522.5,371.5l6,6M522.5,377.5l6,-6M523,373.5h9M527.5,369v9M524.5,370.5l6,6M524.5,376.5l6,-6M525,373.5h9M529.5,369v9M526.5,370.5l6,6M526.5,376.5l6,-6M526,371.5h9M530.5,367v9M527.5,368.5l6,6M527.5,374.5l6,-6M528,374.5h9M532.5,370v9M529.5,371.5l6,6M529.5,377.5l6,-6M530,373.5h9M534.5,369v9M531.5,370.5l6,6M531.5,376.5l6,-6M532,374.5h9M536.5,370v9M533.5,371.5l6,6M533.5,377.5l6,-6M533,376.5h9M537.5,372v9M534.5,373.5l6,6M534.5,379.5l6,-6M535,375.5h9M539.5,371v9M536.5,372.5l6,6M536.5,378.5l6,-6M536,373.5h9M540.5,369v9M537.5,370.5l6,6M537.5,376.5l6,-6M538,372.5h9M542.5,368v9M539.5,369.5l6,6M539.5,375.5l6,-6M540,374.5h9M544.5,370v9M541.5,371.5l6,6M541.5,377.5l6,-6M541,373.5h9M545.5,369v9M542.5,370.5l6,6M542.5,376.5l6,-6M543,374.5h9M547.5,370v9M544.5,371.5l6,6M544.5,377.5l6,-6M545,373.5h9M549.5,369v9M546.5,370.5l6,6M546.5,376.5l6,-6M547,372.5h9M551.5,368v9M548.5,369.5l6,6M548.5,375.5l6,-6M548,373.5h9M552.5,369v9M549.5,370.5l6,6M549.5,376.5l6,-6M550,374.5h9M554.5,370v9M551.5,371.5l6,6M551.5,377.5l6,-6M552,373.5h9M556.5,369v9M553.5,370.5l6,6M553.5,376.5l6,-6M553,373.5h9M557.5,369v9M554.5,370.5l6,6M554.5,376.5l6,-6M555,373.5h9M559.5,369v9M556.5,370.5l6,6M556.5,376.5l6,-6M556,373.5h9M560.5,369v9M557.5,370.5l6,6M557.5,376.5l6,-6M558,373.5h9M562.5,369v9M559.5,370.5l6,6M559.5,376.5l6,-6M560,373.5h9M564.5,369v9M561.5,370.5l6,6M561.5,376.5l6,-6M561,373.5h9M565.5,369v9M562.5,370.5l6,6M562.5,376.5l6,-6M563,372.5h9M567.5,368v9M564.5,369.5l6,6M564.5,375.5l6,-6M564,373.5h9M568.5,369v9M565.5,370.5l6,6M565.5,376.5l6,-6M566,372.5h9M570.5,368v9M567.5,369.5l6,6M567.5,375.5l6,-6M568,373.5h9M572.5,369v9M569.5,370.5l6,6M569.5,376.5l6,-6M569,373.5h9M573.5,369v9M570.5,370.5l6,6M570.5,376.5l6,-6M571,372.5h9M575.5,368v9M572.5,369.5l6,6M572.5,375.5l6,-6M572,372.5h9M576.5,368v9M573.5,369.5l6,6M573.5,375.5l6,-6M574,374.5h9M578.5,370v9M575.5,371.5l6,6M575.5,377.5l6,-6M576,373.5h9M580.5,369v9M577.5,370.5l6,6M577.5,376.5l6,-6M577,372.5h9M581.5,368v9M578.5,369.5l6,6M578.5,375.5l6,-6M579,372.5h9M583.5,368v9M580.5,369.5l6,6M580.5,375.5l6,-6M580,371.5h9M584.5,367v9M581.5,368.5l6,6M581.5,374.5l6,-6M582,372.5h9M586.5,368v9M583.5,369.5l6,6M583.5,375.5l6,-6M583,373.5h9M587.5,369v9M584.5,370.5l6,6M584.5,376.5l6,-6M585,373.5h9M589.5,369v9M586.5,370.5l6,6M586.5,376.5l6,-6M586,373.5h9M590.5,369v9M587.5,370.5l6,6M587.5,376.5l6,-6M588,373.5h9M592.5,369v9M589.5,370.5l6,6M589.5,376.5l6,-6M590,372.5h9M594.5,368v9M591.5,369.5l6,6M591.5,375.5l6,-6M591,373.5h9M595.5,369v9M592.5,370.5l6,6M592.5,376.5l6,-6M593,373.5h9M597.5,369v9M594.5,370.5l6,6M594.5,376.5l6,-6M594,372.5h9M598.5,368v9M595.5,369.5l6,6M595.5,375.5l6,-6M596,374.5h9M600.5,370v9M597.5,371.5l6,6M597.5,377.5l6,-6M598,373.5h9M602.5,369v9M599.5,370.5l6,6M599.5,376.5l6,-6M599,375.5h9M603.5,371v9M600.5,372.5l6,6M600.5,378.5l6,-6M601,375.5h9M605.5,371v9M602.5,372.5l6,6M602.5,378.5l6,-6M603,376.5h9M607.5,372v9M604.5,373.5l6,6M604.5,379.5l6,-6M604,378.5h9M608.5,374v9M605.5,375.5l6,6M605.5,381.5l6,-6M606,377.5h9M610.5,373v9M607.5,374.5l6,6M607.5,380.5l6,-6M608,377.5h9M612.5,373v9M609.5,374.5l6,6M609.5,380.5l6,-6M609,375.5h9M613.5,371v9M610.5,372.5l6,6M610.5,378.5l6,-6M611,375.5h9M615.5,371v9M612.5,372.5l6,6M612.5,378.5l6,-6M612,375.5h9M616.5,371v9M613.5,372.5l6,6M613.5,378.5l6,-6M614,372.5h9M618.5,368v9M615.5,369.5l6,6M615.5,375.5l6,-6M615,372.5h9M619.5,368v9M616.5,369.5l6,6M616.5,375.5l6,-6M617,374.5h9M621.5,370v9M618.5,371.5l6,6M618.5,377.5l6,-6M619,373.5h9M623.5,369v9M620.5,370.5l6,6M620.5,376.5l6,-6M621,373.5h9M625.5,369v9M622.5,370.5l6,6M622.5,376.5l6,-6M622,372.5h9M626.5,368v9M623.5,369.5l6,6M623.5,375.5l6,-6M624,374.5h9M628.5,370v9M625.5,371.5l6,6M625.5,377.5l6,-6M626,373.5h9M630.5,369v9M627.5,370.5l6,6M627.5,376.5l6,-6M628,374.5h9M632.5,370v9M629.5,371.5l6,6M629.5,377.5l6,-6M630,373.5h9M634.5,369v9M631.5,370.5l6,6M631.5,376.5l6,-6M631,371.5h9M635.5,367v9M632.5,368.5l6,6M632.5,374.5l6,-6M633,373.5h9M637.5,369v9M634.5,370.5l6,6M634.5,376.5l6,-6M635,374.5h9M639.5,370v9M636.5,371.5l6,6M636.5,377.5l6,-6M636,374.5h9M640.5,370v9M637.5,371.5l6,6M637.5,377.5l6,-6M638,373.5h9M642.5,369v9M639.5,370.5l6,6M639.5,376.5l6,-6M640,373.5h9M644.5,369v9M641.5,370.5l6,6M641.5,376.5l6,-6M642,374.5h9M646.5,370v9M643.5,371.5l6,6M643.5,377.5l6,-6M644,373.5h9M648.5,369v9M645.5,370.5l6,6M645.5,376.5l6,-6M645,373.5h9M649.5,369v9M646.5,370.5l6,6M646.5,376.5l6,-6M647,374.5h9M651.5,370v9M648.5,371.5l6,6M648.5,377.5l6,-6M649,375.5h9M653.5,371v9M650.5,372.5l6,6M650.5,378.5l6,-6M650,374.5h9M654.5,370v9M651.5,371.5l6,6M651.5,377.5l6,-6M652,375.5h9M656.5,371v9M653.5,372.5l6,6M653.5,378.5l6,-6M654,374.5h9M658.5,370v9M655.5,371.5l6,6M655.5,377.5l6,-6M656,372.5h9M660.5,368v9M657.5,369.5l6,6M657.5,375.5l6,-6M657,374.5h9M661.5,370v9M658.5,371.5l6,6M658.5,377.5l6,-6M659,371.5h9M663.5,367v9M660.5,368.5l6,6M660.5,374.5l6,-6M660,373.5h9M664.5,369v9M661.5,370.5l6,6M661.5,376.5l6,-6M662,373.5h9M666.5,369v9M663.5,370.5l6,6M663.5,376.5l6,-6M664,374.5h9M668.5,370v9M665.5,371.5l6,6M665.5,377.5l6,-6M665,373.5h9M669.5,369v9M666.5,370.5l6,6M666.5,376.5l6,-6M667,373.5h9M671.5,369v9M668.5,370.5l6,6M668.5,376.5l6,-6M669,373.5h9M673.5,369v9M670.5,370.5l6,6M670.5,376.5l6,-6M671,373.5h9M675.5,369v9M672.5,370.5l6,6M672.5,376.5l6,-6M673,372.5h9M677.5,368v9M674.5,369.5l6,6M674.5,375.5l6,-6M675,371.5h9M679.5,367v9M676.5,368.5l6,6M676.5,374.5l6,-6M677,373.5h9M681.5,369v9M678.5,370.5l6,6M678.5,376.5l6,-6M678,375.5h9M682.5,371v9M679.5,372.5l6,6M679.5,378.5l6,-6M680,373.5h9M684.5,369v9M681.5,370.5l6,6M681.5,376.5l6,-6M682,373.5h9M686.5,369v9M683.5,370.5l6,6M683.5,376.5l6,-6M683,371.5h9M687.5,367v9M684.5,368.5l6,6M684.5,374.5l6,-6M685,376.5h9M689.5,372v9M686.5,373.5l6,6M686.5,379.5l6,-6M686,372.5h9M690.5,368v9M687.5,369.5l6,6M687.5,375.5l6,-6M688,373.5h9M692.5,369v9M689.5,370.5l6,6M689.5,376.5l6,-6M689,373.5h9M693.5,369v9M690.5,370.5l6,6M690.5,376.5l6,-6M691,373.5h9M695.5,369v9M692.5,370.5l6,6M692.5,376.5l6,-6M693,372.5h9M697.5,368v9M694.5,369.5l6,6M694.5,375.5l6,-6M695,373.5h9M699.5,369v9M696.5,370.5l6,6M696.5,376.5l6,-6M697,373.5h9M701.5,369v9M698.5,370.5l6,6M698.5,376.5l6,-6M699,374.5h9M703.5,370v9M700.5,371.5l6,6M700.5,377.5l6,-6M701,375.5h9M705.5,371v9M702.5,372.5l6,6M702.5,378.5l6,-6M703,376.5h9M707.5,372v9M704.5,373.5l6,6M704.5,379.5l6,-6M704,376.5h9M708.5,372v9M705.5,373.5l6,6M705.5,379.5l6,-6M706,375.5h9M710.5,371v9M707.5,372.5l6,6M707.5,378.5l6,-6M708,374.5h9M712.5,370v9M709.5,371.5l6,6M709.5,377.5l6,-6M709,373.5h9M713.5,369v9M710.5,370.5l6,6M710.5,376.5l6,-6M711,373.5h9M715.5,369v9M712.5,370.5l6,6M712.5,376.5l6,-6M712,372.5h9M716.5,368v9M713.5,369.5l6,6M713.5,375.5l6,-6M714,372.5h9M718.5,368v9M715.5,369.5l6,6M715.5,375.5l6,-6M716,373.5h9M720.5,369v9M717.5,370.5l6,6M717.5,376.5l6,-6M717,371.5h9M721.5,367v9M718.5,368.5l6,6M718.5,374.5l6,-6M719,372.5h9M723.5,368v9M720.5,369.5l6,6M720.5,375.5l6,-6M721,372.5h9M725.5,368v9M722.5,369.5l6,6M722.5,375.5l6,-6M722,374.5h9M726.5,370v9M723.5,371.5l6,6M723.5,377.5l6,-6M724,373.5h9M728.5,369v9M725.5,370.5l6,6M725.5,376.5l6,-6M726,372.5h9M730.5,368v9M727.5,369.5l6,6M727.5,375.5l6,-6M728,373.5h9M732.5,369v9M729.5,370.5l6,6M729.5,376.5l6,-6M729,373.5h9M733.5,369v9M730.5,370.5l6,6M730.5,376.5l6,-6M731,374.5h9M735.5,370v9M732.5,371.5l6,6M732.5,377.5l6,-6M733,375.5h9M737.5,371v9M734.5,372.5l6,6M734.5,378.5l6,-6M734,372.5h9M738.5,368v9M735.5,369.5l6,6M735.5,375.5l6,-6M736,374.5h9M740.5,370v9M737.5,371.5l6,6M737.5,377.5l6,-6M738,374.5h9M742.5,370v9M739.5,371.5l6,6M739.5,377.5l6,-6M740,374.5h9M744.5,370v9M741.5,371.5l6,6M741.5,377.5l6,-6M741,372.5h9M745.5,368v9M742.5,369.5l6,6M742.5,375.5l6,-6M743,373.5h9M747.5,369v9M744.5,370.5l6,6M744.5,376.5l6,-6M745,373.5h9M749.5,369v9M746.5,370.5l6,6M746.5,376.5l6,-6M747,371.5h9M751.5,367v9M748.5,368.5l6,6M748.5,374.5l6,-6M748,375.5h9M752.5,371v9M749.5,372.5l6,6M749.5,378.5l6,-6M750,373.5h9M754.5,369v9M751.5,370.5l6,6M751.5,376.5l6,-6M752,373.5h9M756.5,369v9M753.5,370.5l6,6M753.5,376.5l6,-6M753,374.5h9M757.5,370v9M754.5,371.5l6,6M754.5,377.5l6,-6M755,374.5h9M759.5,370v9M756.5,371.5l6,6M756.5,377.5l6,-6M757,375.5h9M761.5,371v9M758.5,372.5l6,6M758.5,378.5l6,-6M759,374.5h9M763.5,370v9M760.5,371.5l6,6M760.5,377.5l6,-6M760,375.5h9M764.5,371v9M761.5,372.5l6,6M761.5,378.5l6,-6M762,373.5h9M766.5,369v9M763.5,370.5l6,6M763.5,376.5l6,-6M764,374.5h9M768.5,370v9M765.5,371.5l6,6M765.5,377.5l6,-6M765,373.5h9M769.5,369v9M766.5,370.5l6,6M766.5,376.5l6,-6M767,372.5h9M771.5,368v9M768.5,369.5l6,6M768.5,375.5l6,-6M768,372.5h9M772.5,368v9M769.5,369.5l6,6M769.5,375.5l6,-6M770,374.5h9M774.5,370v9M771.5,371.5l6,6M771.5,377.5l6,-6M771,373.5h9M775.5,369v9M772.5,370.5l6,6M772.5,376.5l6,-6M773,373.5h9M777.5,369v9M774.5,370.5l6,6M774.5,376.5l6,-6M775,373.5h9M779.5,369v9M776.5,370.5l6,6M776.5,376.5l6,-6M777,371.5h9M781.5,367v9M778.5,368.5l6,6M778.5,374.5l6,-6M779,374.5h9M783.5,370v9M780.5,371.5l6,6M780.5,377.5l6,-6M781,372.5h9M785.5,368v9M782.5,369.5l6,6M782.5,375.5l6,-6M782,371.5h9M786.5,367v9M783.5,368.5l6,6M783.5,374.5l6,-6M784,372.5h9M788.5,368v9M785.5,369.5l6,6M785.5,375.5l6,-6M785,371.5h9M789.5,367v9M786.5,368.5l6,6M786.5,374.5l6,-6M787,372.5h9M791.5,368v9M788.5,369.5l6,6M788.5,375.5l6,-6M788,373.5h9M792.5,369v9M789.5,370.5l6,6M789.5,376.5l6,-6M790,372.5h9M794.5,368v9M791.5,369.5l6,6M791.5,375.5l6,-6M792,372.5h9M796.5,368v9M793.5,369.5l6,6M793.5,375.5l6,-6M793,373.5h9M797.5,369v9M794.5,370.5l6,6M794.5,376.5l6,-6M795,377.5h9M799.5,373v9M796.5,374.5l6,6M796.5,380.5l6,-6M797,375.5h9M801.5,371v9M798.5,372.5l6,6M798.5,378.5l6,-6M798,375.5h9M802.5,371v9M799.5,372.5l6,6M799.5,378.5l6,-6M800,376.5h9M804.5,372v9M801.5,373.5l6,6M801.5,379.5l6,-6M802,373.5h9M806.5,369v9M803.5,370.5l6,6M803.5,376.5l6,-6M804,374.5h9M808.5,370v9M805.5,371.5l6,6M805.5,377.5l6,-6M805,373.5h9M809.5,369v9M806.5,370.5l6,6M806.5,376.5l6,-6M807,372.5h9M811.5,368v9M808.5,369.5l6,6M808.5,375.5l6,-6M808,373.5h9M812.5,369v9M809.5,370.5l6,6M809.5,376.5l6,-6M264,288.5h9M268.5,284v9M265.5,285.5l6,6M265.5,291.5l6,-6" stroke="#ffff00" stroke-width="1" fill="none" shape-rendering="crispEdges"/>
<g stroke="#262626" stroke-width="1" fill="none" shape-rendering="crispEdges">
<path d="M255.5,244V414.5H906"/>
<path d="M255.5,414v-6M363.5,414v-6M472.5,414v-6M580.5,414v-6M688.5,414v-6M797.5,414v-6M905.5,414v-6M256,256.5h6"/>
<rect x="255.5" y="480.5" width="650" height="168"/>
<path d="M363.5,648v-6M363.5,481v6M472.5,648v-6M472.5,481v6M580.5,648v-6M580.5,481v6M688.5,648v-6M688.5,481v6M797.5,648v-6M797.5,481v6M256,521.5h6M905,521.5h-6M256,563.5h6M905,563.5h-6M256,605.5h6M905,605.5h-6M256,647.5h6M905,647.5h-6"/>
</g>
<path d="M268.3,580.3 L271.3,580.3 L272.9,589.8 L274.6,610.9 L276.3,624.6 L278,623.2 L279.3,608.8 L280.6,597.2 L281.8,606.7 L283.1,612.4 L284.8,611.3 L286.5,606.7 L287.9,601.4 L288.8,581.4 L289.6,565.1 L290.9,579.2 L293,598.3 L295.1,617.3 L296.8,632.5 L297.9,619.4 L298.9,608.4 L300,610.9 L301,615.6 L302.7,615.6 L304.4,619.4 L305.9,604.6 L306.9,575 L308,556 L309.5,568.7 L311.2,574 L313.1,589.8 L315,599.3 L315.8,581.4 L316.7,568.7 L317.9,583.5 L319.4,596.1 L320.9,604.6 L322.1,607.8 L323.6,606.7 L325.1,598.3 L326.4,575 L327.4,561.3 L328.7,570.8 L330,566.6 L331,572.9 L332.3,579.2 L333.8,572.9 L334.6,549.7 L335.5,531.3 L336.5,547.6 L337.8,568.7 L339,589.8 L339.9,615.1 L340.7,636.7 L342.2,638.4 L343.7,638.4 L345.2,636.3 L346.4,623.6 L347.9,620.4 L349.2,620.4 L350.4,627.8 L352.1,637.3 L353.8,640.9 L355.3,641.5 L356.4,623.6 L357.4,610.9 L358.7,603.5 L359.9,602.5 L361.2,604.2 L362.7,608.8 L364.4,614.1 L365.9,610.9 L367.1,604.6 L368.4,600.4 L369.2,606.7 L370.3,613 L371.1,598.3 L372.4,585.6 L373.9,578.8 L374.7,594 L376,610.9 L377.9,625.7 L379.6,633.7 L380.4,615.1 L381.3,591.3 L382.3,600.4 L383.6,606.7 L385.1,608.8 L386.1,615.1 L387.2,618.3 L388.5,608.8 L389.5,585.6 L390.6,566.2 L391.6,585.6 L392.5,607.8 L393.7,607.8 L395,608.8 L396.3,618.3 L397.5,607.8 L399.6,602.5 L401.1,591.9 L402.2,560.2 L403.2,536.4 L404.7,537.4 L406.2,549.7 L408.3,570.8 L409.8,610.9 L411.9,637.3 L413.4,615.1 L414.4,589.8 L415.5,570.4 L416.7,589.8 L418.7,601.4 L421,610.5 L421.8,589.8 L422.7,571.9 L424.1,585.6 L426,591.9 L427.9,595.1 L429.4,581.4 L430.5,570.8 L431.5,561.3 L432.8,581.4 L434.5,596.1 L436.4,594 L437.2,575 L438.3,556 L439.8,568.7 L441.9,583.5 L443.8,604.6 L445.3,614.5 L446.9,602.5 L448.2,591.9 L449.3,588.3 L450.3,600.4 L451.4,604.6 L453.1,603.5 L454.5,587.7 L456.2,571.9 L457.9,564.5 L459.8,547.6 L461.1,528.6 L462.4,513.8 L463.8,522.2 L465.1,541.2 L466.8,558.1 L467.9,579.2 L468.9,607.8 L469.8,575 L470.6,556 L471.9,566.6 L473.1,581.4 L474.2,586.2 L475.7,587.3 L477.4,589.4 L479,583.5 L480.5,570.8 L482,543.3 L483.5,520.8 L485.2,526 L486.4,518 L487.9,511.3 L489.2,530.7 L490.4,551.8 L492.1,575 L493.6,598.3 L494.9,614.1 L495.9,598.3 L497.2,577.1 L498.3,568.7 L499.5,579.2 L500.8,591.9 L502.1,596.1 L502.7,579.2 L503.5,566.6 L504.6,583.5 L505.9,595.1 L507.1,599.3 L508,587.7 L508.8,580.3 L510.1,589.4 L511.3,583.5 L512.6,585.6 L513.5,582.4 L514.5,585.6 L515.4,564.5 L516.4,532.8 L517.5,509.6 L518.7,501.1 L520,513.8 L521.3,528.6 L522.3,553.9 L523.4,581.4 L524.2,602.5 L525.1,612 L526.1,594 L527.4,579.2 L528.5,573.3 L529.5,583.5 L530.6,591.5 L531.8,590.9 L532.9,595.1 L533.7,599.3 L534.6,579.2 L535,556 L536.1,555 L537.1,553.9 L538,568.7 L539,585.6 L540.3,596.6 L541.3,575 L542.2,556 L543.4,553.9 L544.5,564.5 L545.8,583.5 L547,594 L548.7,596.6 L549.8,579.2 L551,566.6 L552.3,563.4 L553.6,575 L555.5,586.2 L557,570.8 L557.8,553.9 L558.7,542.3 L559.9,551.8 L561.6,564.5 L563.1,566.2 L564.6,563.4 L565.8,549.7 L566.7,540.6 L567.9,543.3 L569.4,556 L571.3,564.5 L573,569.7 L573.9,549.7 L574.7,533.8 L575.8,547.6 L576.8,560.2 L577.7,564.5 L578.9,564 L580,564.5 L581,566.2 L581.9,547.6 L582.7,531.3 L583.8,543.3 L584.8,550.7 L586.1,550.1 L587.4,550.3 L588.8,551.8 L590.1,555 L591.2,566.6 L592,576.7 L593.1,564.5 L594.1,545.5 L595.4,531.3 L596.4,545.5 L597.7,557.1 L599,560.2 L600,559.8 L601.1,564.5 L602.1,568.7 L603.4,571.9 L604.7,583.5 L606.8,597.8 L608.3,583.5 L610,568.7 L611.4,556 L612.7,532.8 L613.6,522.9 L615,528.6 L616.3,545.5 L618,562.4 L619,581.4 L619.9,607.8 L620.7,589.8 L621.6,574 L622.8,581.4 L624.1,598.3 L625.6,615.1 L627.1,626.8 L628.3,613 L629.6,594 L630.9,580.5 L632.1,583.5 L633.8,588.7 L635.3,593 L636.4,594 L637.2,577.1 L638,560.2 L639.1,544.4 L639.9,564.5 L641.2,581.4 L642.7,598.3 L644.4,610.3 L645.6,598.3 L646.9,581.4 L648.2,572.1 L649.4,574 L650.7,583.5 L652,595.1 L653.3,603.5 L654.1,585.6 L654.9,573.5 L655.8,581.4 L656.6,589.4 L657.9,585.6 L659.2,580.9 L660.2,576.1 L661.1,553.9 L661.9,535.3 L663.4,534.1 L664.4,547.6 L665.5,558.1 L666.8,570.8 L667.8,594 L668.9,615.1 L670.4,630.3 L671.4,619.4 L672.3,612 L673.3,621.5 L674.6,629.9 L676.3,634.1 L677.7,617.3 L678.8,589.8 L679.9,566.6 L681.3,561.3 L683,566.2 L684.5,563.4 L685.3,549.7 L686.2,534.3 L687.2,545.5 L688.1,549.3 L689.1,541.2 L690,528.6 L690.8,516.3 L692.1,530.7 L693.2,556 L694.4,589.8 L695.7,636.3 L698.2,648.9 L699.9,632 L701.2,617.3 L702,608.4 L703.1,615.1 L704.1,620.4 L705.8,608.8 L707.5,595.1 L709.2,583.5 L710.9,564.5 L712.2,545.5 L713,533.8 L714.3,527.5 L715.8,532.8 L717.2,549.7 L718.7,577.1 L719.8,594 L720.8,605.2 L722.1,589.8 L723.1,572.9 L724.2,559.8 L725.3,575 L726.3,589.8 L727.8,595.1 L729.3,593 L731.2,590.9 L732,568.7 L732.9,552.4 L733.9,558.1 L735,565.1 L736.2,566.6 L737.5,575 L739.4,590.4 L741.1,591.9 L743,594 L744,604.6 L745.1,611.6 L746.8,608.8 L748.3,594 L749.3,579.2 L750.4,568.7 L751.4,579.2 L752.5,587.7 L754,589.4 L754.6,568.7 L755.5,550.1 L756.3,564.5 L757.4,581.4 L759,584.5 L760.5,590.9 L762,584.5 L763.7,582.4 L764.7,572.9 L765.8,565.3 L767.5,566.6 L769,569.7 L769.8,543.3 L770.7,518.4 L771.7,532.8 L773.2,543.3 L774.7,568.7 L775.9,594 L777.2,609.9 L778.5,615.1 L779.7,615.8 L781,614.7 L781.8,598.3 L782.9,579.2 L784.2,558.6 L785.6,561.3 L787.3,564.5 L788.6,558.1 L790.3,553.5 L791.3,541.2 L792.2,529.6 L793.5,539.1 L794.9,549.7 L796.2,564.5 L797.5,581.4 L798.7,596.1 L800.2,589.8 L801.3,591.9 L802.8,598.3 L804.2,602.5 L805.1,585.6 L806.1,564.5 L807.4,544.4 L808.9,548.6 L810.4,549.7 L811.8,553.3 L812.9,549.7 L813.9,546.5" stroke="#0072BD" stroke-width="1" fill="none" stroke-linejoin="round"/>
<defs>
<linearGradient id="gPage" x1="0" y1="0" x2="1" y2="1"><stop offset="0" stop-color="#ffffff"/><stop offset="0.6" stop-color="#eef4fd"/><stop offset="1" stop-color="#c5d8f5"/></linearGradient>
<linearGradient id="gFold" x1="0" y1="0" x2="0" y2="1"><stop offset="0" stop-color="#fff8c8"/><stop offset="1" stop-color="#f6d467"/></linearGradient>
<linearGradient id="gCb" x1="0" y1="0" x2="0" y2="1"><stop offset="0" stop-color="#7a6fd8"/><stop offset="0.3" stop-color="#6fb8ee"/><stop offset="0.55" stop-color="#9fe3d0"/><stop offset="0.8" stop-color="#f3e58a"/><stop offset="1" stop-color="#f0a860"/></linearGradient>
<linearGradient id="gPan" x1="0" y1="0" x2="1" y2="0"><stop offset="0" stop-color="#ffffff"/><stop offset="1" stop-color="#c8c8c8"/></linearGradient>
<linearGradient id="gPr" x1="0" y1="0" x2="0" y2="1"><stop offset="0" stop-color="#e8e8e8"/><stop offset="1" stop-color="#8e8e8e"/></linearGradient>
<linearGradient id="gSave" x1="0" y1="0" x2="1" y2="1"><stop offset="0" stop-color="#6a6ad6"/><stop offset="1" stop-color="#38389a"/></linearGradient>
</defs>
<path d="M6.5,62.5H14.5L18.5,66.5V76.5H6.5Z" fill="url(#gPage)" stroke="#6f8fd0" stroke-width="1"/>
<path d="M14.5,62.5V66.5H18.5" fill="#dfe9fa" stroke="#6f8fd0" stroke-width="1"/>
<path d="M7.5,77.5H19.5V67.5" fill="none" stroke="#9fb1d8" stroke-width="1" opacity="0.7"/>
<path d="M6.8,61.8v6M3.8,64.8h6M4.7,62.7l4.2,4.2M4.7,66.9l4.2,-4.2" stroke="#e8552a" stroke-width="0.9" fill="none"/><circle cx="6.8" cy="64.8" r="1.6" fill="#f9b04a"/>
<path d="M28,76V65.5Q28,64.5 29,64.5H33L34.5,66H40.5Q41.5,66 41.5,67V76Q41.5,77 40.5,77H29Q28,77 28,76Z" fill="#efc655" stroke="#c0911c" stroke-width="1"/>
<path d="M29.2,76.5L30.8,69.2Q31,68.5 31.8,68.5H41.8Q42.6,68.5 42.4,69.3L41,76.5Z" fill="url(#gFold)" stroke="#c79a25" stroke-width="0.8"/>
<path d="M35,65.2Q37.5,61.5 40.5,64.6" fill="none" stroke="#4f7fc0" stroke-width="1.3"/><path d="M41.9,62.6L41.6,66.6L38.6,65.2Z" fill="#3f6db5"/>
<path d="M51.5,63H64.5V77H53L51.5,75.5Z" fill="url(#gSave)" stroke="#2f2f86" stroke-width="1"/>
<rect x="54" y="63.5" width="8.5" height="6.5" fill="#f4f6ff"/><path d="M54,70L62.5,63.5V70Z" fill="#cfd6f2"/>
<rect x="55" y="72.5" width="6.5" height="4.5" fill="#23235e"/><rect x="56" y="73.5" width="2" height="2.8" fill="#e6e6f6"/>
<path d="M65.5,64V78H53.5" fill="none" stroke="#8a8aa8" stroke-width="1" opacity="0.6"/>
<path d="M77,68L76,62.5H82.5L84.5,68Z" fill="#cfe6fb" stroke="#8fb3da" stroke-width="0.8"/>
<path d="M74.8,70.5Q74.8,68 77.5,68H85Q87.6,68.6 87.6,71V74.5Q87.6,76 85.5,76.6L82,77.6H78L75.8,76.2Q74.8,75.6 74.8,74.5Z" fill="url(#gPr)" stroke="#6f6f6f" stroke-width="0.8"/>
<path d="M75.5,71.3H87M76,73.6H86.6" stroke="#5a5a5a" stroke-width="0.8" fill="none"/><path d="M77.5,74.5H84.8L83.5,77H78.8Z" fill="#f4f4f4" stroke="#777" stroke-width="0.5"/><rect x="85" y="69.6" width="1.2" height="1" fill="#4fbf4f"/>
<path d="M96.5,61V82" stroke="#a0a0a0" stroke-width="1"/><path d="M97.5,61V82" stroke="#fafafa" stroke-width="1"/>
<path d="M127.5,61V82" stroke="#a0a0a0" stroke-width="1"/><path d="M128.5,61V82" stroke="#fafafa" stroke-width="1"/>
<path d="M181.5,61V82" stroke="#a0a0a0" stroke-width="1"/><path d="M182.5,61V82" stroke="#fafafa" stroke-width="1"/>
<rect x="107.5" y="62.5" width="10" height="8" fill="#fff" stroke="#3d5fa5" stroke-width="1"/><rect x="107.5" y="62.5" width="10" height="1.6" fill="#3d5fa5"/>
<rect x="105" y="65" width="10" height="8.5" fill="#f8fbff" stroke="#3d5fa5" stroke-width="1"/><rect x="105" y="65" width="10" height="1.6" fill="#3d5fa5"/>
<rect x="105" y="71.8" width="8.5" height="5.4" rx="2.7" fill="none" stroke="#3f5f95" stroke-width="2.4"/><rect x="105" y="71.8" width="8.5" height="5.4" rx="2.7" fill="none" stroke="#b9c9e4" stroke-width="1"/><rect x="110.8" y="71.8" width="8.5" height="5.4" rx="2.7" fill="none" stroke="#3f5f95" stroke-width="2.4"/><rect x="110.8" y="71.8" width="8.5" height="5.4" rx="2.7" fill="none" stroke="#c5d3ea" stroke-width="1"/><path d="M108.5,74.5H116" stroke="#3f5f95" stroke-width="2.2"/><path d="M108.5,74.5H116" stroke="#dfe8f5" stroke-width="0.9"/>
<rect x="138.5" y="62.5" width="9.5" height="14.5" fill="url(#gCb)" stroke="#2c3f8f" stroke-width="1"/>
<rect x="158.5" y="62.5" width="14.5" height="14.5" fill="#fbfcff" stroke="#2c3f8f" stroke-width="1"/>
<rect x="160.5" y="65" width="4.5" height="3.8" fill="#e25a5a"/><rect x="160.5" y="71" width="4.5" height="3.8" fill="#5a5ae0"/><path d="M166.8,66.7H171.2M166.8,72.7H171.2" stroke="#111" stroke-width="1.1"/>
<path d="M194.5,63.5V75.5L197.2,73L199.2,77.5L201,76.7L199,72.3H202.8Z" fill="#fff" stroke="#000" stroke-width="1" stroke-linejoin="miter"/>
<rect x="212.5" y="62.5" width="15" height="14.5" fill="url(#gPan)" stroke="#808080" stroke-width="1"/><rect x="212.5" y="62.5" width="15" height="2.2" fill="#8db4e8" stroke="#6f8fc0" stroke-width="0.6"/>
<path d="M220.5,65V77" stroke="#808080" stroke-width="1"/><rect x="221" y="65.2" width="6" height="11.3" fill="#dcdcdc"/><path d="M222.3,68H226M222.3,70.8H226M222.3,73.6H226" stroke="#111" stroke-width="1.1"/>
<rect x="9.5" y="7.5" width="14.5" height="15" fill="#fdfdfd" stroke="#8a8a8a" stroke-width="1"/><rect x="10" y="8" width="13.5" height="1.6" fill="#6aa0d8"/>
<path d="M11,16.2L14.6,14.4L16.3,16.8L13.6,18.6Z" fill="#3f7fc4"/>
<path d="M14.6,14.4Q16.5,12.5 17.8,10.2Q18.6,11 19.2,13L16.3,16.8Z" fill="#7a3b2a"/>
<path d="M13.6,18.6L16.3,16.8L19.2,13Q19.9,15.5 22.4,19.6Q20.6,18.6 19.4,19.4Q18.4,20.2 17.6,21.2Q15.8,19.4 13.6,18.6Z" fill="#e8631c"/>
<path d="M17.8,10.2Q18.6,11 19.2,13Q19.9,15.5 22.4,19.6Q20.4,17.5 19.2,15.5Q18.2,13.4 17.8,10.2Z" fill="#f9b233"/>
<path d="M828,15.5H838" stroke="#7a7a7a" stroke-width="1"/>
<rect x="872.5" y="10.5" width="9" height="9" rx="1.5" fill="none" stroke="#7a7a7a" stroke-width="1"/>
<path d="M918.5,10.5L928,20M928,10.5L918.5,20" stroke="#7a7a7a" stroke-width="1"/>
<path d="M934.5,41.5H937.5L940.5,44.5" fill="none" stroke="#000" stroke-width="1.4"/><path d="M941.5,41.5V46.5H936.5Z" fill="#000"/>
<text x="25" y="110.8" font-size="13" fill="#000" font-family="'Liberation Sans','Noto Sans CJK SC',sans-serif">课题题目</text>
<text x="24.5" y="205.8" font-size="13" fill="#000" font-family="'Liberation Sans','Noto Sans CJK SC',sans-serif">控制面板</text>
<text x="207.5" y="206.8" font-size="13" fill="#000" font-family="'Liberation Sans','Noto Sans CJK SC',sans-serif">演示面板</text>
<text x="22.5" y="710.8" font-size="13" fill="#000" font-family="'Liberation Sans','Noto Sans CJK SC',sans-serif">检测结果</text>
<text x="80.5" y="269.2" font-size="13" fill="#000" font-family="'Liberation Sans','Noto Sans CJK SC',sans-serif">导入数据</text>
<text x="86.7" y="357.7" font-size="13" fill="#8c8080" font-family="'Liberation Sans','Noto Sans CJK SC',sans-serif">预处理</text>
<text x="79.4" y="439.7" font-size="13" fill="#8c8080" font-family="'Liberation Sans','Noto Sans CJK SC',sans-serif">正在检测</text>
<text x="80" y="532.7" font-size="13" fill="#000" font-family="'Liberation Sans','Noto Sans CJK SC',sans-serif">导出图形</text>
<text x="93.4" y="625.3" font-size="13" fill="#000" font-family="'Liberation Sans','Noto Sans CJK SC',sans-serif">重置</text>
<text x="130.8" y="154.3" font-size="27.1" fill="#1a1a1a" font-family="'Liberation Sans','Noto Serif CJK SC',serif">基于</text>
<text x="323.2" y="154.3" font-size="27.1" fill="#1a1a1a" font-family="'Liberation Sans','Noto Serif CJK SC',serif">的心电信号</text>
<text x="516.2" y="154.3" font-size="27.1" fill="#1a1a1a" font-family="'Liberation Sans','Noto Serif CJK SC',serif">波群检测与心率分析系统</text>
<text x="8.7" y="48.2" font-size="12" fill="#000" font-family="'Liberation Sans','Noto Sans CJK SC',sans-serif">文件</text>
<text x="64.1" y="48.2" font-size="12" fill="#000" font-family="'Liberation Sans','Noto Sans CJK SC',sans-serif">编辑</text>
<text x="119.1" y="48.2" font-size="12" fill="#000" font-family="'Liberation Sans','Noto Sans CJK SC',sans-serif">查看</text>
<text x="176.1" y="48.2" font-size="12" fill="#000" font-family="'Liberation Sans','Noto Sans CJK SC',sans-serif">插入</text>
<text x="229.2" y="48.2" font-size="12" fill="#000" font-family="'Liberation Sans','Noto Sans CJK SC',sans-serif">工具</text>
<text x="284.6" y="48.2" font-size="12" fill="#000" font-family="'Liberation Sans','Noto Sans CJK SC',sans-serif">桌面</text>
<text x="341.5" y="48.2" font-size="12" fill="#000" font-family="'Liberation Sans','Noto Sans CJK SC',sans-serif">窗口</text>
<text x="402.2" y="48.2" font-size="12" fill="#000" font-family="'Liberation Sans','Noto Sans CJK SC',sans-serif">帮助</text>
<text x="69.9" y="749.5" font-size="13" fill="#000" font-family="'Liberation Sans','Noto Sans CJK SC',sans-serif">：</text>
<text x="235.6" y="749.5" font-size="13" fill="#000" font-family="'Liberation Sans','Noto Sans CJK SC',sans-serif">平均心率：</text>
<text x="495.7" y="749.5" font-size="13" fill="#000" font-family="'Liberation Sans','Noto Sans CJK SC',sans-serif">间隔：</text>
<text x="729.9" y="749.5" font-size="13" fill="#000" font-family="'Liberation Sans','Noto Sans CJK SC',sans-serif">：</text>
</svg>
<div id="frame"></div>
</div></body></html>
